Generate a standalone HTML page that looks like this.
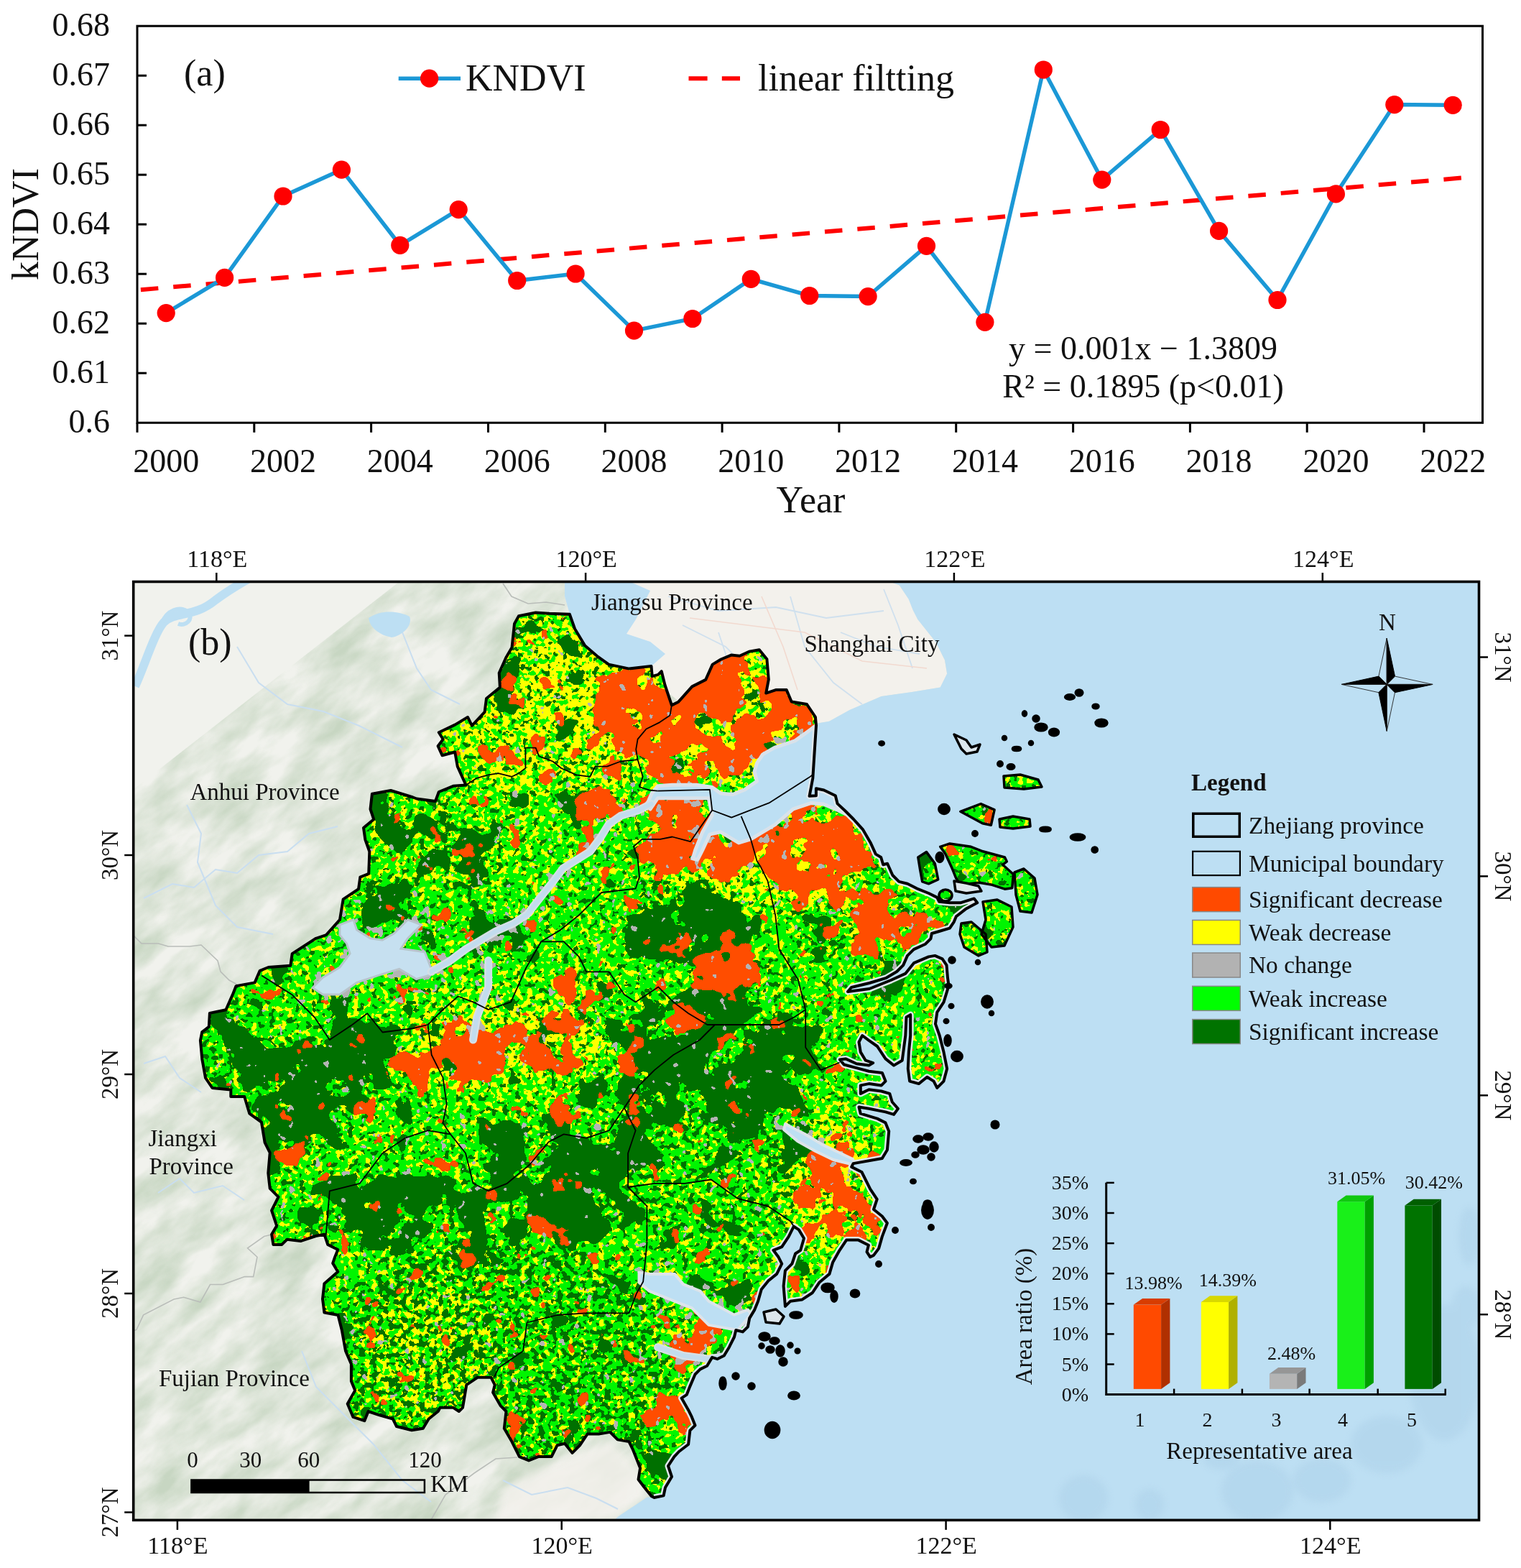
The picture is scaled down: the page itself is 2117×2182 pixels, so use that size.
<!DOCTYPE html>
<html><head><meta charset="utf-8"><title>kNDVI trend</title>
<style>
html,body{margin:0;padding:0;background:#fff;}
svg{display:block;}
svg text{font-family:'Liberation Serif','Times New Roman',serif;fill:#111;}
</style></head>
<body>
<svg xmlns="http://www.w3.org/2000/svg" width="2117" height="2182" viewBox="0 0 2117 2182">
<rect width="2117" height="2182" fill="#fff"/>
<rect x="191.0" y="36.2" width="1872.5" height="552.0999999999999" fill="none" stroke="#000" stroke-width="3"/>
<text x="153" y="50.4" text-anchor="end" font-size="46">0.68</text>
<line x1="191.0" y1="105.2" x2="204.0" y2="105.2" stroke="#000" stroke-width="3"/>
<text x="153" y="119.4" text-anchor="end" font-size="46">0.67</text>
<line x1="191.0" y1="174.2" x2="204.0" y2="174.2" stroke="#000" stroke-width="3"/>
<text x="153" y="188.4" text-anchor="end" font-size="46">0.66</text>
<line x1="191.0" y1="243.2" x2="204.0" y2="243.2" stroke="#000" stroke-width="3"/>
<text x="153" y="257.4" text-anchor="end" font-size="46">0.65</text>
<line x1="191.0" y1="312.2" x2="204.0" y2="312.2" stroke="#000" stroke-width="3"/>
<text x="153" y="326.4" text-anchor="end" font-size="46">0.64</text>
<line x1="191.0" y1="381.2" x2="204.0" y2="381.2" stroke="#000" stroke-width="3"/>
<text x="153" y="395.4" text-anchor="end" font-size="46">0.63</text>
<line x1="191.0" y1="450.2" x2="204.0" y2="450.2" stroke="#000" stroke-width="3"/>
<text x="153" y="464.4" text-anchor="end" font-size="46">0.62</text>
<line x1="191.0" y1="519.2" x2="204.0" y2="519.2" stroke="#000" stroke-width="3"/>
<text x="153" y="533.4" text-anchor="end" font-size="46">0.61</text>
<text x="153" y="602.4" text-anchor="end" font-size="46">0.6</text>
<line x1="191.0" y1="588.3" x2="191.0" y2="601.8" stroke="#000" stroke-width="3"/>
<text x="231.2" y="656.5" text-anchor="middle" font-size="46">2000</text>
<line x1="353.8" y1="588.3" x2="353.8" y2="601.8" stroke="#000" stroke-width="3"/>
<text x="394.0" y="656.5" text-anchor="middle" font-size="46">2002</text>
<line x1="516.6" y1="588.3" x2="516.6" y2="601.8" stroke="#000" stroke-width="3"/>
<text x="556.8" y="656.5" text-anchor="middle" font-size="46">2004</text>
<line x1="679.5" y1="588.3" x2="679.5" y2="601.8" stroke="#000" stroke-width="3"/>
<text x="719.7" y="656.5" text-anchor="middle" font-size="46">2006</text>
<line x1="842.3" y1="588.3" x2="842.3" y2="601.8" stroke="#000" stroke-width="3"/>
<text x="882.5" y="656.5" text-anchor="middle" font-size="46">2008</text>
<line x1="1005.1" y1="588.3" x2="1005.1" y2="601.8" stroke="#000" stroke-width="3"/>
<text x="1045.3" y="656.5" text-anchor="middle" font-size="46">2010</text>
<line x1="1167.9" y1="588.3" x2="1167.9" y2="601.8" stroke="#000" stroke-width="3"/>
<text x="1208.1" y="656.5" text-anchor="middle" font-size="46">2012</text>
<line x1="1330.7" y1="588.3" x2="1330.7" y2="601.8" stroke="#000" stroke-width="3"/>
<text x="1370.9" y="656.5" text-anchor="middle" font-size="46">2014</text>
<line x1="1493.6" y1="588.3" x2="1493.6" y2="601.8" stroke="#000" stroke-width="3"/>
<text x="1533.8" y="656.5" text-anchor="middle" font-size="46">2016</text>
<line x1="1656.4" y1="588.3" x2="1656.4" y2="601.8" stroke="#000" stroke-width="3"/>
<text x="1696.6" y="656.5" text-anchor="middle" font-size="46">2018</text>
<line x1="1819.2" y1="588.3" x2="1819.2" y2="601.8" stroke="#000" stroke-width="3"/>
<text x="1859.4" y="656.5" text-anchor="middle" font-size="46">2020</text>
<line x1="1982.0" y1="588.3" x2="1982.0" y2="601.8" stroke="#000" stroke-width="3"/>
<text x="2022.2" y="656.5" text-anchor="middle" font-size="46">2022</text>
<text x="1128.5" y="713" text-anchor="middle" font-size="52">Year</text>
<text transform="translate(53,312) rotate(-90)" text-anchor="middle" font-size="52">kNDVI</text>
<text x="256" y="118.5" font-size="52">(a)</text>
<line x1="195.9" y1="403.2" x2="2044.6" y2="246.7" stroke="#ff0000" stroke-width="6" stroke-dasharray="24.5 21"/>
<polyline fill="none" stroke="#1b98d6" stroke-width="5.5" stroke-linejoin="miter" points="231.2,435.6 312.6,386.4 394.0,273.0 475.4,236.2 556.8,341.3 638.2,291.6 719.7,390.5 801.1,381.0 882.5,460.1 963.9,443.5 1045.3,388.3 1126.7,411.5 1208.1,412.6 1289.5,342.3 1370.9,448.3 1452.3,97.0 1533.8,250.2 1615.2,180.5 1696.6,321.4 1778.0,417.5 1859.4,269.9 1940.8,145.6 2022.2,146.3"/>
<circle cx="231.2" cy="435.6" r="12.6" fill="#ff0000"/>
<circle cx="312.6" cy="386.4" r="12.6" fill="#ff0000"/>
<circle cx="394.0" cy="273.0" r="12.6" fill="#ff0000"/>
<circle cx="475.4" cy="236.2" r="12.6" fill="#ff0000"/>
<circle cx="556.8" cy="341.3" r="12.6" fill="#ff0000"/>
<circle cx="638.2" cy="291.6" r="12.6" fill="#ff0000"/>
<circle cx="719.7" cy="390.5" r="12.6" fill="#ff0000"/>
<circle cx="801.1" cy="381.0" r="12.6" fill="#ff0000"/>
<circle cx="882.5" cy="460.1" r="12.6" fill="#ff0000"/>
<circle cx="963.9" cy="443.5" r="12.6" fill="#ff0000"/>
<circle cx="1045.3" cy="388.3" r="12.6" fill="#ff0000"/>
<circle cx="1126.7" cy="411.5" r="12.6" fill="#ff0000"/>
<circle cx="1208.1" cy="412.6" r="12.6" fill="#ff0000"/>
<circle cx="1289.5" cy="342.3" r="12.6" fill="#ff0000"/>
<circle cx="1370.9" cy="448.3" r="12.6" fill="#ff0000"/>
<circle cx="1452.3" cy="97.0" r="12.6" fill="#ff0000"/>
<circle cx="1533.8" cy="250.2" r="12.6" fill="#ff0000"/>
<circle cx="1615.2" cy="180.5" r="12.6" fill="#ff0000"/>
<circle cx="1696.6" cy="321.4" r="12.6" fill="#ff0000"/>
<circle cx="1778.0" cy="417.5" r="12.6" fill="#ff0000"/>
<circle cx="1859.4" cy="269.9" r="12.6" fill="#ff0000"/>
<circle cx="1940.8" cy="145.6" r="12.6" fill="#ff0000"/>
<circle cx="2022.2" cy="146.3" r="12.6" fill="#ff0000"/>
<line x1="554.7" y1="109.2" x2="641" y2="109.2" stroke="#1b98d6" stroke-width="5.5"/>
<circle cx="597.6" cy="109.2" r="12.6" fill="#ff0000"/>
<text x="648" y="126" font-size="52">KNDVI</text>
<line x1="958.5" y1="109.2" x2="984.6" y2="109.2" stroke="#ff0000" stroke-width="6"/>
<line x1="1004.8" y1="109.2" x2="1030" y2="109.2" stroke="#ff0000" stroke-width="6"/>
<text x="1055" y="126" font-size="52">linear filtting</text>
<text x="1591" y="500.2" text-anchor="middle" font-size="46">y = 0.001x − 1.3809</text>
<text x="1591" y="553" text-anchor="middle" font-size="46">R² = 0.1895 (p&lt;0.01)</text>
<defs>
<clipPath id="cMap"><rect x="185.7" y="809.5" width="1872.8" height="1305.9"/></clipPath>
<clipPath id="cLand"><path d="M716.0,867.9 L722.0,857.2 L745.6,852.5 L764.5,853.7 L792.9,854.8 L800.0,875.0 L814.2,898.6 L830.8,912.8 L847.3,924.6 L875.7,930.6 L906.5,927.0 L907.7,941.2 L916.0,938.8 L920.7,934.1 L925.4,953.0 L934.9,981.4 L944.3,976.7 L963.3,955.4 L982.2,945.9 L991.7,924.6 L1003.5,917.5 L1017.7,911.6 L1029.5,912.8 L1042.6,906.7 L1056.8,904.3 L1067.4,917.3 L1069.8,945.7 L1066.2,964.6 L1080.4,959.9 L1094.6,959.9 L1101.7,976.5 L1123.0,980.0 L1134.9,997.8 L1136.0,1009.6 L1131.3,1083.0 L1126.6,1107.8 L1135.9,1107.3 L1135.9,1097.2 L1146.7,1099.5 L1162.8,1107.3 L1165.6,1118.4 L1176.0,1128.0 L1188.0,1140.0 L1201.2,1154.7 L1211.5,1172.4 L1218.9,1188.6 L1226.2,1193.0 L1229.2,1203.3 L1235.1,1201.8 L1242.4,1218.0 L1251.3,1226.9 L1263.0,1229.8 L1277.8,1237.2 L1292.5,1243.0 L1304.3,1248.9 L1307.2,1254.8 L1321.9,1256.3 L1336.7,1256.3 L1355.8,1250.4 L1360.2,1256.3 L1344.0,1265.1 L1330.8,1275.4 L1327.8,1282.8 L1321.9,1291.6 L1307.2,1296.0 L1296.9,1299.0 L1295.4,1306.3 L1288.1,1313.7 L1271.9,1321.1 L1263.0,1329.9 L1257.2,1343.1 L1248.3,1352.0 L1233.6,1360.8 L1210.0,1368.0 L1185.0,1374.0 L1180.0,1380.0 L1210.0,1376.0 L1240.0,1364.0 L1260.1,1354.9 L1271.9,1340.2 L1292.5,1331.4 L1301.3,1329.9 L1311.6,1334.3 L1317.5,1343.1 L1319.0,1360.8 L1320.5,1371.6 L1313.5,1394.7 L1304.3,1408.6 L1302.0,1424.8 L1307.7,1441.0 L1313.5,1464.1 L1318.1,1487.2 L1313.5,1504.6 L1304.3,1513.8 L1299.6,1504.6 L1290.4,1498.8 L1278.8,1508.1 L1266.1,1504.6 L1263.8,1487.2 L1264.9,1464.1 L1267.2,1441.0 L1267.2,1412.1 L1261.5,1415.5 L1260.3,1441.0 L1255.7,1475.7 L1244.1,1482.6 L1232.5,1473.4 L1221.0,1456.0 L1209.4,1447.9 L1200.2,1441.0 L1195.5,1450.2 L1197.8,1464.1 L1204.8,1475.7 L1215.2,1479.1 L1209.4,1482.6 L1192.1,1480.3 L1177.0,1473.4 L1168.9,1474.5 L1174.7,1481.5 L1192.1,1486.1 L1209.4,1490.7 L1227.9,1493.0 L1232.5,1504.6 L1226.8,1510.4 L1209.4,1508.1 L1197.8,1510.4 L1197.8,1521.9 L1209.4,1516.2 L1226.8,1518.5 L1238.3,1521.9 L1241.8,1533.5 L1249.9,1542.8 L1244.1,1550.9 L1232.5,1547.4 L1209.4,1542.8 L1195.5,1540.5 L1197.8,1549.7 L1221.0,1556.6 L1232.5,1562.4 L1237.2,1574.2 L1234.9,1600.2 L1227.8,1612.0 L1187.6,1619.1 L1185.2,1623.9 L1199.4,1631.0 L1211.2,1654.6 L1220.7,1668.8 L1216.0,1683.0 L1227.8,1692.5 L1234.9,1702.0 L1227.8,1720.9 L1223.1,1737.4 L1216.0,1746.9 L1211.2,1749.3 L1206.5,1742.2 L1208.9,1732.7 L1194.7,1725.6 L1178.1,1725.6 L1168.6,1739.8 L1159.2,1756.4 L1154.4,1772.9 L1140.2,1784.8 L1130.8,1799.0 L1116.6,1808.4 L1100.0,1810.8 L1092.9,1817.9 L1090.6,1789.5 L1092.9,1768.2 L1102.4,1758.7 L1107.1,1744.5 L1114.2,1739.8 L1119.0,1723.2 L1111.9,1711.4 L1104.8,1706.7 L1097.7,1720.9 L1088.2,1735.1 L1076.4,1739.8 L1083.5,1749.3 L1088.2,1758.7 L1081.1,1772.9 L1069.3,1782.4 L1059.8,1794.2 L1055.1,1810.8 L1050.3,1822.6 L1043.2,1834.4 L1040.9,1846.3 L1033.8,1853.4 L1024.3,1851.0 L1022.0,1860.5 L1014.9,1874.7 L1007.8,1886.5 L998.3,1891.2 L991.2,1888.9 L984.1,1900.7 L974.6,1905.4 L967.5,1912.5 L960.4,1929.1 L955.7,1940.9 L948.6,1945.6 L958.1,1962.2 L962.8,1971.7 L967.5,1983.5 L960.4,1990.6 L958.1,2010.0 L945.0,2020.0 L938.4,2027.1 L930.0,2040.0 L935.0,2055.0 L926.0,2070.0 L923.6,2081.4 L910.5,2084.0 L906.9,2082.3 L896.4,2069.2 L888.5,2058.7 L891.1,2042.9 L880.6,2016.6 L875.4,2006.1 L859.6,2003.4 L849.1,1992.9 L833.3,1995.6 L817.5,1995.6 L807.0,2011.3 L796.5,2021.8 L786.0,2008.7 L775.5,2011.3 L767.6,2027.1 L749.2,2027.1 L736.0,2032.4 L722.9,2027.1 L712.4,2006.1 L701.8,1987.7 L704.5,1964.0 L696.6,1956.1 L686.1,1937.7 L688.7,1927.2 L683.4,1916.7 L665.0,1916.7 L649.3,1927.2 L644.0,1958.8 L638.8,1964.0 L630.9,1958.8 L612.5,1958.8 L609.8,1964.0 L596.7,1974.5 L588.8,1987.7 L573.0,1990.3 L552.0,1985.0 L546.8,1974.5 L528.3,1969.3 L512.6,1964.0 L507.3,1977.2 L491.5,1971.9 L483.7,1953.5 L494.2,1935.1 L488.9,1922.0 L488.9,1898.3 L481.0,1879.9 L475.8,1851.0 L470.5,1830.0 L451.4,1826.5 L449.0,1807.6 L451.4,1786.3 L470.3,1769.7 L463.2,1757.9 L465.6,1750.8 L470.3,1739.0 L456.2,1731.9 L451.4,1717.7 L439.6,1720.0 L418.3,1727.1 L399.4,1724.8 L392.3,1731.9 L380.4,1731.9 L378.1,1717.7 L385.2,1705.8 L378.1,1684.5 L387.5,1665.6 L375.7,1653.8 L373.3,1632.5 L375.7,1604.1 L368.6,1589.9 L363.9,1561.5 L347.3,1549.7 L340.2,1526.0 L321.3,1526.0 L321.3,1516.6 L295.5,1514.0 L286.0,1499.8 L281.3,1473.8 L278.9,1447.8 L281.3,1436.0 L290.8,1428.9 L291.9,1409.9 L314.4,1405.2 L323.9,1383.9 L328.6,1372.1 L354.6,1367.4 L361.7,1350.8 L373.6,1346.0 L404.3,1343.7 L406.7,1327.1 L439.8,1305.8 L454.0,1301.1 L473.0,1279.8 L477.7,1251.4 L499.0,1237.2 L501.3,1220.7 L513.2,1215.9 L514.3,1185.2 L508.4,1168.6 L506.0,1152.0 L520.2,1140.2 L515.5,1126.0 L517.9,1104.7 L543.9,1100.0 L574.7,1109.5 L580.0,1111.5 L606.0,1115.0 L610.8,1102.0 L630.9,1093.8 L648.6,1092.6 L636.8,1066.6 L633.2,1046.5 L615.5,1051.2 L609.6,1038.2 L616.7,1028.7 L610.8,1019.3 L633.2,1008.6 L651.0,998.0 L656.9,1009.8 L674.6,990.9 L677.0,972.0 L695.9,956.6 L694.7,936.5 L704.2,915.2 L712.5,901.0 Z"/><polygon points="1308.7,1178.3 1321.9,1173.9 1351.4,1178.3 1366.1,1184.2 1398.5,1193.0 1401.4,1198.9 1395.5,1203.3 1410.3,1216.5 1408.8,1235.7 1398.5,1237.2 1380.8,1231.3 1363.1,1228.3 1336.7,1231.3 1330.8,1222.4 1324.9,1207.7 1316.0,1188.6"/><polygon points="1277.8,1193.0 1289.5,1185.6 1301.3,1201.8 1305.7,1223.9 1292.5,1229.8 1283.7,1226.9 1280.7,1210.7"/><ellipse cx="1316" cy="1246" rx="9" ry="8"/><polygon points="1336.8,1129.3 1365.2,1118.6 1384.1,1126.9 1379.4,1148.2 1367.5,1145.8"/><polygon points="1391.0,1140.0 1410.0,1136.0 1433.0,1140.0 1434.0,1150.0 1410.0,1153.0 1392.0,1151.0"/><polygon points="1397.0,1080.0 1420.0,1078.0 1445.0,1085.0 1450.0,1095.0 1425.0,1098.0 1398.0,1096.0"/><polygon points="1412.0,1214.0 1425.0,1209.0 1440.0,1222.0 1444.0,1245.0 1436.0,1270.0 1420.0,1268.0 1414.0,1245.0"/><polygon points="1368.0,1255.0 1388.0,1252.0 1408.0,1262.0 1410.0,1290.0 1398.0,1316.0 1380.0,1318.0 1366.0,1300.0 1372.0,1280.0"/><polygon points="1338.0,1285.0 1352.0,1283.0 1372.0,1300.0 1374.0,1325.0 1362.0,1330.0 1342.0,1318.0 1336.0,1300.0"/></clipPath>
<filter id="f_dg" filterUnits="userSpaceOnUse" x="185.7" y="809.5" width="1872.8" height="1305.9" color-interpolation-filters="sRGB">
  <feGaussianBlur in="SourceGraphic" stdDeviation="14" result="d"/>
  <feTurbulence type="fractalNoise" baseFrequency="0.022" numOctaves="3" seed="7" result="n"/>
  <feColorMatrix in="n" type="matrix" values="0 0 0 0 0 0 0 0 0 0 0 0 0 0 0 1 0 0 0 0" result="na"/>
  <feComposite in="d" in2="na" operator="arithmetic" k1="0" k2="1" k3="2.0" k4="-1.0" result="s"/>
  <feComponentTransfer in="s" result="t"><feFuncA type="discrete" tableValues="0 1"/></feComponentTransfer>
  <feFlood flood-color="#007000"/>
  <feComposite in2="t" operator="in"/>
</filter>
<filter id="f_dgs" filterUnits="userSpaceOnUse" x="185.7" y="809.5" width="1872.8" height="1305.9" color-interpolation-filters="sRGB">
  <feGaussianBlur in="SourceGraphic" stdDeviation="10" result="d"/>
  <feTurbulence type="fractalNoise" baseFrequency="0.12" numOctaves="2" seed="11" result="n"/>
  <feColorMatrix in="n" type="matrix" values="0 0 0 0 0 0 0 0 0 0 0 0 0 0 0 1 0 0 0 0" result="na"/>
  <feComposite in="d" in2="na" operator="arithmetic" k1="0" k2="1" k3="2.0" k4="-1.0" result="s"/>
  <feComponentTransfer in="s" result="t"><feFuncA type="discrete" tableValues="0 1"/></feComponentTransfer>
  <feFlood flood-color="#007000"/>
  <feComposite in2="t" operator="in"/>
</filter>
<filter id="f_ye" filterUnits="userSpaceOnUse" x="185.7" y="809.5" width="1872.8" height="1305.9" color-interpolation-filters="sRGB">
  <feGaussianBlur in="SourceGraphic" stdDeviation="14" result="d"/>
  <feTurbulence type="fractalNoise" baseFrequency="0.12" numOctaves="2" seed="4" result="n"/>
  <feColorMatrix in="n" type="matrix" values="0 0 0 0 0 0 0 0 0 0 0 0 0 0 0 1 0 0 0 0" result="na"/>
  <feComposite in="d" in2="na" operator="arithmetic" k1="0" k2="1" k3="2.0" k4="-1.0" result="s"/>
  <feComponentTransfer in="s" result="t"><feFuncA type="discrete" tableValues="0 1"/></feComponentTransfer>
  <feFlood flood-color="#ffff00"/>
  <feComposite in2="t" operator="in"/>
</filter>
<filter id="f_orr" filterUnits="userSpaceOnUse" x="185.7" y="809.5" width="1872.8" height="1305.9" color-interpolation-filters="sRGB">
  <feGaussianBlur in="SourceGraphic" stdDeviation="12" result="d"/>
  <feTurbulence type="fractalNoise" baseFrequency="0.03" numOctaves="3" seed="21" result="n"/>
  <feColorMatrix in="n" type="matrix" values="0 0 0 0 0 0 0 0 0 0 0 0 0 0 0 1 0 0 0 0" result="na"/>
  <feComposite in="d" in2="na" operator="arithmetic" k1="0" k2="1" k3="2.0" k4="-1.0" result="s"/>
  <feComponentTransfer in="s" result="t"><feFuncA type="discrete" tableValues="0 1"/></feComponentTransfer>
  <feFlood flood-color="#ff4d00"/>
  <feComposite in2="t" operator="in"/>
</filter>
<filter id="f_gr" filterUnits="userSpaceOnUse" x="185.7" y="809.5" width="1872.8" height="1305.9" color-interpolation-filters="sRGB">
  <feGaussianBlur in="SourceGraphic" stdDeviation="10" result="d"/>
  <feTurbulence type="fractalNoise" baseFrequency="0.08" numOctaves="2" seed="33" result="n"/>
  <feColorMatrix in="n" type="matrix" values="0 0 0 0 0 0 0 0 0 0 0 0 0 0 0 1 0 0 0 0" result="na"/>
  <feComposite in="d" in2="na" operator="arithmetic" k1="0" k2="1" k3="2.0" k4="-1.0" result="s"/>
  <feComponentTransfer in="s" result="t"><feFuncA type="discrete" tableValues="0 1"/></feComponentTransfer>
  <feFlood flood-color="#b4b4b4"/>
  <feComposite in2="t" operator="in"/>
</filter>
<filter id="fHill" filterUnits="userSpaceOnUse" x="-200" y="600" width="2600" height="1800" color-interpolation-filters="sRGB">
  <feTurbulence type="fractalNoise" baseFrequency="0.012 0.03" numOctaves="4" seed="5" result="n"/>
  <feColorMatrix in="n" type="matrix" values="0 0 0 0 0.78 0 0 0 0 0.84 0 0 0 0 0.76 1.8 0 0 0 -0.5"/>
  <feComposite in2="SourceGraphic" operator="in"/>
</filter>
<filter id="fSoft" x="-20%" y="-20%" width="140%" height="140%"><feGaussianBlur stdDeviation="5"/></filter>
</defs>
<g clip-path="url(#cMap)">
<rect x="185.7" y="809.5" width="1872.8" height="1305.9" fill="#f1f2ed"/>
<g transform="rotate(-38 1120 1460)"><rect x="-200" y="600" width="2600" height="1800" fill="#fff" filter="url(#fHill)"/></g>
<polygon points="786.0,809.5 1239.0,809.5 1251.9,814.5 1264.5,833.4 1270.8,849.2 1277.1,861.8 1289.7,877.6 1302.4,893.3 1315.0,918.6 1318.1,937.5 1308.7,956.4 1270.8,962.7 1226.7,969.0 1182.5,988.0 1154.1,1003.7 1135.2,1006.9 1100.0,1100.0 900.0,940.0 800.0,880.0 786.0,830.0" fill="#f3f1ec"/>
<polygon points="690,2115.4 700,2070 760,2040 850,2005 890,2045 896,2082 853,2115.4" fill="#f3f1ec" opacity="0.8" filter="url(#fSoft)"/>
<polygon points="1239.0,809.5 1251.9,814.5 1264.5,833.4 1270.8,849.2 1277.1,861.8 1289.7,877.6 1302.4,893.3 1315.0,918.6 1318.1,937.5 1308.7,956.4 1270.8,962.7 1226.7,969.0 1182.5,988.0 1154.1,1003.7 1135.2,1006.9 1136.0,1009.6 1100.0,1300.0 950.0,1700.0 923.0,2081.0 900.0,2084.0 876.3,2099.8 860.5,2110.3 855.0,2115.4 2058.5,2115.4 2058.5,809.5" fill="#bddff3"/>
<g filter="url(#fSoft)" opacity="0.4"><ellipse cx="1508" cy="2085" rx="34" ry="32" fill="#a9cde6"/><ellipse cx="1600" cy="2094" rx="20" ry="22" fill="#a9cde6"/><ellipse cx="1750" cy="2075" rx="50" ry="42" fill="#a9cde6"/><ellipse cx="1840" cy="2060" rx="40" ry="30" fill="#a9cde6"/><ellipse cx="1930" cy="2010" rx="50" ry="40" fill="#a9cde6"/><ellipse cx="2010" cy="1910" rx="50" ry="95" fill="#a9cde6"/><ellipse cx="2040" cy="1820" rx="20" ry="30" fill="#a9cde6"/><ellipse cx="2045" cy="1720" rx="15" ry="40" fill="#a9cde6"/><ellipse cx="1700" cy="2030" rx="25" ry="15" fill="#a9cde6"/></g>
<polyline points="185.0,1301.0 197.0,1313.0 220.5,1313.0 234.0,1317.0 264.0,1317.0 280.0,1315.0 303.0,1337.0 307.0,1352.0 319.0,1364.0 330.0,1370.0" fill="none" stroke="#b9bdb9" stroke-width="1.6"/>
<polyline points="185.0,1852.0 190.0,1850.4 199.6,1829.9 242.0,1808.0 255.6,1805.3 278.8,1812.1 292.5,1787.5 310.3,1787.5 340.4,1776.6 352.7,1776.6 358.0,1749.2 344.5,1736.9 367.7,1720.5 378.0,1718.0" fill="none" stroke="#b9bdb9" stroke-width="1.6"/>
<polyline points="700.0,812.0 712.0,830.0 735.0,840.0 760.0,838.0 786.0,842.0" fill="none" stroke="#b9bdb9" stroke-width="1.6"/>
<polyline points="600.0,2115.0 620.0,2080.0 660.0,2050.0 690.0,2030.0 720.0,2028.0" fill="none" stroke="#b9bdb9" stroke-width="1.6"/>
<polyline points="200.0,1250.0 240.0,1230.0 270.0,1235.0 300.0,1210.0 330.0,1215.0 360.0,1190.0 400.0,1185.0 430.0,1160.0 470.0,1150.0" fill="none" stroke="#c9def0" stroke-width="2"/>
<polyline points="260.0,1120.0 280.0,1160.0 275.0,1200.0 300.0,1260.0 330.0,1290.0 380.0,1300.0" fill="none" stroke="#c9def0" stroke-width="2"/>
<polyline points="200.0,1480.0 230.0,1470.0 250.0,1500.0 280.0,1520.0" fill="none" stroke="#c9def0" stroke-width="2"/>
<polyline points="220.0,1660.0 250.0,1640.0 270.0,1660.0 310.0,1650.0 340.0,1670.0" fill="none" stroke="#c9def0" stroke-width="2"/>
<polyline points="420.0,1880.0 440.0,1930.0 470.0,1960.0 520.0,2010.0 560.0,2060.0 600.0,2090.0" fill="none" stroke="#c9def0" stroke-width="2"/>
<polyline points="700.0,2060.0 740.0,2080.0 790.0,2070.0 830.0,2085.0 860.0,2100.0" fill="none" stroke="#c9def0" stroke-width="2"/>
<polyline points="330.0,900.0 360.0,950.0 400.0,980.0 450.0,990.0 500.0,1010.0 560.0,1040.0" fill="none" stroke="#c9def0" stroke-width="2"/>
<polyline points="560.0,880.0 580.0,930.0 600.0,960.0 640.0,980.0" fill="none" stroke="#c9def0" stroke-width="2"/>
<polyline points="930.0,830.0 1000.0,850.0 1080.0,845.0 1150.0,860.0 1230.0,850.0" fill="none" stroke="#cfe0ee" stroke-width="1.8"/>
<polyline points="1000.0,880.0 1020.0,940.0 1060.0,990.0" fill="none" stroke="#cfe0ee" stroke-width="1.8"/>
<polyline points="1100.0,830.0 1120.0,900.0 1160.0,950.0 1200.0,980.0" fill="none" stroke="#cfe0ee" stroke-width="1.8"/>
<polyline points="1170.0,880.0 1220.0,900.0 1280.0,910.0" fill="none" stroke="#cfe0ee" stroke-width="1.8"/>
<polyline points="950.0,870.0 1010.0,900.0 1040.0,930.0" fill="none" stroke="#cfe0ee" stroke-width="1.8"/>
<polyline points="1230.0,820.0 1250.0,870.0 1270.0,930.0" fill="none" stroke="#cfe0ee" stroke-width="1.8"/>
<polyline points="960.0,860.0 1040.0,870.0 1120.0,880.0 1200.0,920.0 1290.0,930.0" fill="none" stroke="#f2d9cf" stroke-width="1.6"/>
<polyline points="1060.0,830.0 1090.0,900.0 1110.0,960.0" fill="none" stroke="#f2d9cf" stroke-width="1.6"/>
<polygon points="786.0,811.0 880.0,811.0 905.0,822.0 885.0,862.0 872.0,882.0 905.0,893.0 926.0,910.0 906.5,927.0 875.7,930.6 847.3,924.6 830.8,912.8 814.2,898.6 800.0,875.0 792.9,854.8 786.0,830.0" fill="#bddff3"/>
<path d="M188,955 C200,930 215,880 228,866 C245,850 270,860 300,835 C320,820 335,812 345,806" fill="none" stroke="#bddff3" stroke-width="12"/>
<path d="M226,866 C232,850 250,842 262,852 C270,862 258,872 248,868" fill="none" stroke="#bddff3" stroke-width="6"/>
<path d="M513,860 C530,848 555,850 570,858 C575,870 560,885 545,887 C530,884 515,875 513,860 Z" fill="#bddff3"/>
<g clip-path="url(#cLand)">
<rect x="185.7" y="809.5" width="1872.8" height="1305.9" fill="#00f500"/>
<g filter="url(#f_ye)"><rect x="185.7" y="809.5" width="1872.8" height="1305.9" fill="#000" fill-opacity="0.33"/><ellipse cx="780" cy="985" rx="170" ry="120" fill="#000" fill-opacity="0.3"/>
<ellipse cx="1030" cy="1000" rx="110" ry="90" fill="#000" fill-opacity="0.4"/>
<ellipse cx="1050" cy="1200" rx="150" ry="70" fill="#000" fill-opacity="0.35"/>
<ellipse cx="700" cy="1450" rx="150" ry="70" fill="#000" fill-opacity="0.3"/>
<ellipse cx="600" cy="1880" rx="90" ry="100" fill="#000" fill-opacity="0.25"/>
<ellipse cx="850" cy="960" rx="120" ry="80" fill="#000" fill-opacity="0.3"/>
<ellipse cx="1150" cy="1650" rx="70" ry="110" fill="#000" fill-opacity="0.3"/>
<ellipse cx="640" cy="1150" rx="120" ry="90" fill="#000" fill-opacity="0.15"/><polygon points="828.0,933.0 905.0,930.0 933.0,960.0 933.0,1067.0 860.0,1067.0 828.0,1040.0" fill="#000" fill-opacity="0.255"/>
<ellipse cx="730" cy="980" rx="110" ry="110" fill="#000" fill-opacity="0.036"/>
<polygon points="940.0,915.0 1030.0,912.0 1070.0,950.0 1100.0,975.0 1135.0,1000.0 1130.0,1040.0 1060.0,1045.0 1050.0,1090.0 990.0,1095.0 930.0,1090.0 935.0,990.0" fill="#000" fill-opacity="0.186"/>
<ellipse cx="836" cy="1118" rx="42" ry="26" fill="#000" fill-opacity="0.255"/>
<ellipse cx="942" cy="1138" rx="42" ry="38" fill="#000" fill-opacity="0.255"/>
<ellipse cx="984" cy="1187" rx="105" ry="32" fill="#000" fill-opacity="0.21"/>
<ellipse cx="1131" cy="1190" rx="84" ry="60" fill="#000" fill-opacity="0.216"/>
<ellipse cx="1205" cy="1282" rx="52" ry="42" fill="#000" fill-opacity="0.21"/>
<ellipse cx="1250" cy="1295" rx="38" ry="25" fill="#000" fill-opacity="0.18"/>
<ellipse cx="1005" cy="1346" rx="42" ry="32" fill="#000" fill-opacity="0.18"/>
<ellipse cx="800" cy="1374" rx="28" ry="13" fill="#000" fill-opacity="0.22499999999999998"/>
<ellipse cx="649" cy="1468" rx="50" ry="42" fill="#000" fill-opacity="0.255"/>
<ellipse cx="730" cy="1450" rx="95" ry="38" fill="#000" fill-opacity="0.165"/>
<ellipse cx="1000" cy="1350" rx="45" ry="30" fill="#000" fill-opacity="0.18"/>
<ellipse cx="960" cy="1420" rx="35" ry="22" fill="#000" fill-opacity="0.165"/>
<ellipse cx="586" cy="1474" rx="32" ry="28" fill="#000" fill-opacity="0.21"/>
<ellipse cx="790" cy="1378" rx="26" ry="16" fill="#000" fill-opacity="0.24"/>
<ellipse cx="807" cy="1427" rx="22" ry="14" fill="#000" fill-opacity="0.21"/>
<ellipse cx="860" cy="1473" rx="16" ry="14" fill="#000" fill-opacity="0.22499999999999998"/>
<ellipse cx="786" cy="1546" rx="22" ry="16" fill="#000" fill-opacity="0.21"/>
<ellipse cx="1006" cy="1352" rx="52" ry="30" fill="#000" fill-opacity="0.165"/>
<ellipse cx="411" cy="1603" rx="26" ry="17" fill="#000" fill-opacity="0.21"/>
<ellipse cx="500" cy="1535" rx="21" ry="17" fill="#000" fill-opacity="0.18"/>
<ellipse cx="744" cy="1701" rx="21" ry="15" fill="#000" fill-opacity="0.22499999999999998"/>
<ellipse cx="512" cy="1935" rx="17" ry="13" fill="#000" fill-opacity="0.18"/>
<ellipse cx="563" cy="1796" rx="17" ry="9" fill="#000" fill-opacity="0.18"/>
<ellipse cx="670" cy="1788" rx="11" ry="8" fill="#000" fill-opacity="0.18"/>
<ellipse cx="1160" cy="1650" rx="45" ry="65" fill="#000" fill-opacity="0.24"/>
<ellipse cx="1195" cy="1720" rx="20" ry="25" fill="#000" fill-opacity="0.18"/>
<ellipse cx="920" cy="1966" rx="30" ry="24" fill="#000" fill-opacity="0.255"/>
<ellipse cx="950" cy="1868" rx="25" ry="42" fill="#000" fill-opacity="0.18"/>
<ellipse cx="977" cy="1857" rx="27" ry="23" fill="#000" fill-opacity="0.21"/>
<ellipse cx="1070" cy="1830" rx="30" ry="45" fill="#000" fill-opacity="0.24"/>
<ellipse cx="600" cy="1180" rx="30" ry="20" fill="#000" fill-opacity="0.105"/></g>
<g filter="url(#f_dgs)"><rect x="185.7" y="809.5" width="1872.8" height="1305.9" fill="#000" fill-opacity="0.21"/><ellipse cx="620" cy="1220" rx="140" ry="110" fill="#000" fill-opacity="0.03"/>
<ellipse cx="430" cy="1520" rx="150" ry="130" fill="#000" fill-opacity="0.05"/>
<ellipse cx="800" cy="1500" rx="160" ry="120" fill="#000" fill-opacity="0.05"/>
<ellipse cx="1050" cy="1450" rx="90" ry="120" fill="#000" fill-opacity="0.075"/>
<ellipse cx="650" cy="1700" rx="200" ry="70" fill="#000" fill-opacity="0.075"/>
<ellipse cx="760" cy="990" rx="120" ry="110" fill="#000" fill-opacity="0.0375"/>
<ellipse cx="560" cy="1150" rx="45" ry="35" fill="#000" fill-opacity="0.15"/>
<ellipse cx="650" cy="1200" rx="45" ry="35" fill="#000" fill-opacity="0.1375"/>
<ellipse cx="540" cy="1260" rx="40" ry="30" fill="#000" fill-opacity="0.15"/>
<ellipse cx="700" cy="1310" rx="40" ry="30" fill="#000" fill-opacity="0.1375"/>
<ellipse cx="610" cy="1100" rx="30" ry="22" fill="#000" fill-opacity="0.1375"/>
<ellipse cx="963" cy="1292" rx="85" ry="55" fill="#000" fill-opacity="0.18"/>
<ellipse cx="900" cy="1250" rx="30" ry="30" fill="#000" fill-opacity="0.15"/>
<ellipse cx="933" cy="1468" rx="65" ry="85" fill="#000" fill-opacity="0.18"/>
<ellipse cx="1000" cy="1400" rx="50" ry="50" fill="#000" fill-opacity="0.2"/>
<ellipse cx="1150" cy="1300" rx="40" ry="30" fill="#000" fill-opacity="0.15"/>
<ellipse cx="1230" cy="1360" rx="30" ry="30" fill="#000" fill-opacity="0.125"/>
<ellipse cx="428" cy="1520" rx="85" ry="70" fill="#000" fill-opacity="0.15"/>
<ellipse cx="320" cy="1447" rx="45" ry="45" fill="#000" fill-opacity="0.15"/>
<ellipse cx="520" cy="1460" rx="40" ry="40" fill="#000" fill-opacity="0.15"/>
<ellipse cx="350" cy="1620" rx="40" ry="40" fill="#000" fill-opacity="0.15"/>
<ellipse cx="546" cy="1678" rx="95" ry="45" fill="#000" fill-opacity="0.1375"/>
<ellipse cx="807" cy="1657" rx="70" ry="70" fill="#000" fill-opacity="0.18"/>
<ellipse cx="870" cy="1600" rx="40" ry="40" fill="#000" fill-opacity="0.2"/>
<ellipse cx="700" cy="1600" rx="50" ry="35" fill="#000" fill-opacity="0.15"/>
<ellipse cx="1030" cy="1520" rx="50" ry="60" fill="#000" fill-opacity="0.175"/>
<ellipse cx="1100" cy="1450" rx="40" ry="30" fill="#000" fill-opacity="0.15"/>
<ellipse cx="1100" cy="1600" rx="40" ry="40" fill="#000" fill-opacity="0.1125"/>
<ellipse cx="915" cy="2040" rx="25" ry="35" fill="#000" fill-opacity="0.175"/><ellipse cx="700" cy="1900" rx="260" ry="170" fill="#000" fill-opacity="0.25"/>
<ellipse cx="1000" cy="1650" rx="120" ry="120" fill="#000" fill-opacity="0.15"/></g>
<g filter="url(#f_dg)"><rect x="185.7" y="809.5" width="1872.8" height="1305.9" fill="#000" fill-opacity="0.12"/><ellipse cx="620" cy="1220" rx="140" ry="110" fill="#000" fill-opacity="0.12"/>
<ellipse cx="430" cy="1520" rx="150" ry="130" fill="#000" fill-opacity="0.2"/>
<ellipse cx="800" cy="1500" rx="160" ry="120" fill="#000" fill-opacity="0.2"/>
<ellipse cx="1050" cy="1450" rx="90" ry="120" fill="#000" fill-opacity="0.3"/>
<ellipse cx="650" cy="1700" rx="200" ry="70" fill="#000" fill-opacity="0.3"/>
<ellipse cx="760" cy="990" rx="120" ry="110" fill="#000" fill-opacity="0.15"/>
<ellipse cx="560" cy="1150" rx="45" ry="35" fill="#000" fill-opacity="0.6"/>
<ellipse cx="650" cy="1200" rx="45" ry="35" fill="#000" fill-opacity="0.55"/>
<ellipse cx="540" cy="1260" rx="40" ry="30" fill="#000" fill-opacity="0.6"/>
<ellipse cx="700" cy="1310" rx="40" ry="30" fill="#000" fill-opacity="0.55"/>
<ellipse cx="610" cy="1100" rx="30" ry="22" fill="#000" fill-opacity="0.55"/>
<ellipse cx="963" cy="1292" rx="85" ry="55" fill="#000" fill-opacity="0.72"/>
<ellipse cx="900" cy="1250" rx="30" ry="30" fill="#000" fill-opacity="0.6"/>
<ellipse cx="933" cy="1468" rx="65" ry="85" fill="#000" fill-opacity="0.72"/>
<ellipse cx="1000" cy="1400" rx="50" ry="50" fill="#000" fill-opacity="0.72"/>
<ellipse cx="1150" cy="1300" rx="40" ry="30" fill="#000" fill-opacity="0.6"/>
<ellipse cx="1230" cy="1360" rx="30" ry="30" fill="#000" fill-opacity="0.5"/>
<ellipse cx="428" cy="1520" rx="85" ry="70" fill="#000" fill-opacity="0.6"/>
<ellipse cx="320" cy="1447" rx="45" ry="45" fill="#000" fill-opacity="0.6"/>
<ellipse cx="520" cy="1460" rx="40" ry="40" fill="#000" fill-opacity="0.6"/>
<ellipse cx="350" cy="1620" rx="40" ry="40" fill="#000" fill-opacity="0.6"/>
<ellipse cx="546" cy="1678" rx="95" ry="45" fill="#000" fill-opacity="0.55"/>
<ellipse cx="807" cy="1657" rx="70" ry="70" fill="#000" fill-opacity="0.72"/>
<ellipse cx="870" cy="1600" rx="40" ry="40" fill="#000" fill-opacity="0.72"/>
<ellipse cx="700" cy="1600" rx="50" ry="35" fill="#000" fill-opacity="0.6"/>
<ellipse cx="1030" cy="1520" rx="50" ry="60" fill="#000" fill-opacity="0.7"/>
<ellipse cx="1100" cy="1450" rx="40" ry="30" fill="#000" fill-opacity="0.6"/>
<ellipse cx="1100" cy="1600" rx="40" ry="40" fill="#000" fill-opacity="0.45"/>
<ellipse cx="915" cy="2040" rx="25" ry="35" fill="#000" fill-opacity="0.7"/></g>
<g filter="url(#f_orr)"><rect x="185.7" y="809.5" width="1872.8" height="1305.9" fill="#000" fill-opacity="0.08"/><polygon points="828.0,933.0 905.0,930.0 933.0,960.0 933.0,1067.0 860.0,1067.0 828.0,1040.0" fill="#000" fill-opacity="0.85"/>
<ellipse cx="730" cy="980" rx="110" ry="110" fill="#000" fill-opacity="0.12"/>
<polygon points="940.0,915.0 1030.0,912.0 1070.0,950.0 1100.0,975.0 1135.0,1000.0 1130.0,1040.0 1060.0,1045.0 1050.0,1090.0 990.0,1095.0 930.0,1090.0 935.0,990.0" fill="#000" fill-opacity="0.62"/>
<ellipse cx="836" cy="1118" rx="42" ry="26" fill="#000" fill-opacity="0.85"/>
<ellipse cx="942" cy="1138" rx="42" ry="38" fill="#000" fill-opacity="0.85"/>
<ellipse cx="984" cy="1187" rx="105" ry="32" fill="#000" fill-opacity="0.7"/>
<ellipse cx="1131" cy="1190" rx="84" ry="60" fill="#000" fill-opacity="0.72"/>
<ellipse cx="1205" cy="1282" rx="52" ry="42" fill="#000" fill-opacity="0.7"/>
<ellipse cx="1250" cy="1295" rx="38" ry="25" fill="#000" fill-opacity="0.6"/>
<ellipse cx="1005" cy="1346" rx="42" ry="32" fill="#000" fill-opacity="0.6"/>
<ellipse cx="800" cy="1374" rx="28" ry="13" fill="#000" fill-opacity="0.75"/>
<ellipse cx="649" cy="1468" rx="50" ry="42" fill="#000" fill-opacity="0.85"/>
<ellipse cx="730" cy="1450" rx="95" ry="38" fill="#000" fill-opacity="0.55"/>
<ellipse cx="1000" cy="1350" rx="45" ry="30" fill="#000" fill-opacity="0.6"/>
<ellipse cx="960" cy="1420" rx="35" ry="22" fill="#000" fill-opacity="0.55"/>
<ellipse cx="586" cy="1474" rx="32" ry="28" fill="#000" fill-opacity="0.7"/>
<ellipse cx="790" cy="1378" rx="26" ry="16" fill="#000" fill-opacity="0.8"/>
<ellipse cx="807" cy="1427" rx="22" ry="14" fill="#000" fill-opacity="0.7"/>
<ellipse cx="860" cy="1473" rx="16" ry="14" fill="#000" fill-opacity="0.75"/>
<ellipse cx="786" cy="1546" rx="22" ry="16" fill="#000" fill-opacity="0.7"/>
<ellipse cx="1006" cy="1352" rx="52" ry="30" fill="#000" fill-opacity="0.55"/>
<ellipse cx="411" cy="1603" rx="26" ry="17" fill="#000" fill-opacity="0.7"/>
<ellipse cx="500" cy="1535" rx="21" ry="17" fill="#000" fill-opacity="0.6"/>
<ellipse cx="744" cy="1701" rx="21" ry="15" fill="#000" fill-opacity="0.75"/>
<ellipse cx="512" cy="1935" rx="17" ry="13" fill="#000" fill-opacity="0.6"/>
<ellipse cx="563" cy="1796" rx="17" ry="9" fill="#000" fill-opacity="0.6"/>
<ellipse cx="670" cy="1788" rx="11" ry="8" fill="#000" fill-opacity="0.6"/>
<ellipse cx="1160" cy="1650" rx="45" ry="65" fill="#000" fill-opacity="0.8"/>
<ellipse cx="1195" cy="1720" rx="20" ry="25" fill="#000" fill-opacity="0.6"/>
<ellipse cx="920" cy="1966" rx="30" ry="24" fill="#000" fill-opacity="0.85"/>
<ellipse cx="950" cy="1868" rx="25" ry="42" fill="#000" fill-opacity="0.6"/>
<ellipse cx="977" cy="1857" rx="27" ry="23" fill="#000" fill-opacity="0.7"/>
<ellipse cx="1070" cy="1830" rx="30" ry="45" fill="#000" fill-opacity="0.8"/>
<ellipse cx="600" cy="1180" rx="30" ry="20" fill="#000" fill-opacity="0.35"/></g>
<g filter="url(#f_gr)"><rect x="185.7" y="809.5" width="1872.8" height="1305.9" fill="#000" fill-opacity="0.02"/><polyline points="600.0,1352.0 625.0,1338.0 648.0,1321.0 690.0,1296.0 715.0,1285.0 733.8,1272.4 750.3,1251.1 769.3,1227.5 783.5,1208.5 802.4,1196.7 821.3,1184.9 835.5,1166.0 847.3,1147.0 863.9,1135.2 887.6,1128.0 906.5,1118.6" fill="none" stroke="#000" stroke-opacity="0.3" stroke-width="30"/><polyline points="679.6,1336.6 679.6,1373.4 663.8,1415.5 658.5,1447.0" fill="none" stroke="#000" stroke-opacity="0.3" stroke-width="30"/><polyline points="915.5,1874.7 951.0,1886.5 986.5,1891.2 1005.0,1888.0" fill="none" stroke="#000" stroke-opacity="0.3" stroke-width="30"/><polygon points="472.9,1286.9 491.9,1279.8 496.6,1294.0 515.5,1305.8 532.1,1308.2 548.6,1298.7 567.6,1279.8 586.5,1286.9 567.6,1305.8 558.1,1320.0 591.2,1324.8 603.1,1355.5 579.4,1362.6 555.7,1348.4 525.0,1357.9 496.6,1367.4 472.9,1383.9 449.3,1383.9 435.1,1374.4 449.3,1360.2 472.9,1346.0 487.1,1327.1 482.4,1312.9 472.9,1301.1" fill="none" stroke="#000" stroke-opacity="0.3" stroke-width="30"/><polygon points="1136.0,1009.6 1106.5,1030.9 1078.0,1040.3 1061.5,1049.8 1053.5,1062.0 1050.1,1073.6 1053.5,1087.1 1036.6,1098.9 1019.8,1105.6 1003.0,1103.9 991.2,1095.5 969.4,1092.2 935.7,1092.2 915.5,1093.8 907.1,1103.9 902.1,1115.7 899.4,1119.0 905.0,1126.0 915.5,1110.7 961.0,1110.7 986.2,1110.7 991.2,1134.2 977.8,1157.8 967.7,1183.0 964.3,1194.8 971.0,1196.5 977.8,1183.0 987.9,1161.1 1003.0,1157.8 1028.2,1172.9 1045.0,1167.9 1078.7,1147.7 1104.0,1125.8 1129.2,1117.4 1146.0,1119.0 1166.2,1127.5 1180.0,1134.2 1200.0,1100.0 1150.0,1020.0" fill="none" stroke="#000" stroke-opacity="0.3" stroke-width="26"/><polygon points="889.5,1770.6 903.7,1772.9 939.1,1772.9 951.0,1787.1 974.6,1796.6 986.5,1810.8 1022.0,1829.7 1040.9,1822.6 1045.0,1828.0 1040.9,1834.4 1026.7,1851.0 986.5,1843.9 962.8,1820.2 939.1,1810.8 903.7,1796.6 889.5,1784.8" fill="none" stroke="#000" stroke-opacity="0.3" stroke-width="26"/><polygon points="1093.0,1564.0 1120.0,1578.0 1145.0,1593.0 1187.0,1613.0 1189.0,1621.0 1160.0,1614.0 1135.0,1602.0 1110.0,1588.0 1091.0,1572.0" fill="none" stroke="#000" stroke-opacity="0.3" stroke-width="26"/></g>
<polygon points="1136.0,1009.6 1106.5,1030.9 1078.0,1040.3 1061.5,1049.8 1053.5,1062.0 1050.1,1073.6 1053.5,1087.1 1036.6,1098.9 1019.8,1105.6 1003.0,1103.9 991.2,1095.5 969.4,1092.2 935.7,1092.2 915.5,1093.8 907.1,1103.9 902.1,1115.7 899.4,1119.0 905.0,1126.0 915.5,1110.7 961.0,1110.7 986.2,1110.7 991.2,1134.2 977.8,1157.8 967.7,1183.0 964.3,1194.8 971.0,1196.5 977.8,1183.0 987.9,1161.1 1003.0,1157.8 1028.2,1172.9 1045.0,1167.9 1078.7,1147.7 1104.0,1125.8 1129.2,1117.4 1146.0,1119.0 1166.2,1127.5 1180.0,1134.2 1200.0,1100.0 1150.0,1020.0" fill="#bddff3" stroke="#d9e2ea" stroke-width="5" stroke-linejoin="round"/>
<polygon points="472.9,1286.9 491.9,1279.8 496.6,1294.0 515.5,1305.8 532.1,1308.2 548.6,1298.7 567.6,1279.8 586.5,1286.9 567.6,1305.8 558.1,1320.0 591.2,1324.8 603.1,1355.5 579.4,1362.6 555.7,1348.4 525.0,1357.9 496.6,1367.4 472.9,1383.9 449.3,1383.9 435.1,1374.4 449.3,1360.2 472.9,1346.0 487.1,1327.1 482.4,1312.9 472.9,1301.1" fill="#c6e0f0" stroke="#b8c4cc" stroke-width="3"/>
<polyline points="1136.0,1009.6 1131.3,1083.0 1126.6,1107.8 1135.9,1107.3 1135.9,1097.2 1146.7,1099.5 1162.8,1107.3 1165.6,1118.4 1176.0,1128.0 1188.0,1140.0 1201.2,1154.7 1211.5,1172.4 1218.9,1188.6 1226.2,1193.0 1229.2,1203.3 1235.1,1201.8 1242.4,1218.0 1251.3,1226.9 1263.0,1229.8 1277.8,1237.2 1292.5,1243.0 1304.3,1248.9 1307.2,1254.8 1321.9,1256.3 1336.7,1256.3 1355.8,1250.4 1360.2,1256.3 1344.0,1265.1 1330.8,1275.4 1327.8,1282.8 1321.9,1291.6 1307.2,1296.0 1296.9,1299.0 1295.4,1306.3 1288.1,1313.7 1271.9,1321.1 1263.0,1329.9 1257.2,1343.1 1248.3,1352.0 1233.6,1360.8 1210.0,1368.0 1185.0,1374.0 1180.0,1380.0 1210.0,1376.0 1240.0,1364.0 1260.1,1354.9 1271.9,1340.2 1292.5,1331.4 1301.3,1329.9 1311.6,1334.3 1317.5,1343.1 1319.0,1360.8 1320.5,1371.6 1313.5,1394.7 1304.3,1408.6 1302.0,1424.8 1307.7,1441.0 1313.5,1464.1 1318.1,1487.2 1313.5,1504.6 1304.3,1513.8 1299.6,1504.6 1290.4,1498.8 1278.8,1508.1 1266.1,1504.6 1263.8,1487.2 1264.9,1464.1 1267.2,1441.0 1267.2,1412.1 1261.5,1415.5 1260.3,1441.0 1255.7,1475.7 1244.1,1482.6 1232.5,1473.4 1221.0,1456.0 1209.4,1447.9 1200.2,1441.0 1195.5,1450.2 1197.8,1464.1 1204.8,1475.7 1215.2,1479.1 1209.4,1482.6 1192.1,1480.3 1177.0,1473.4 1168.9,1474.5 1174.7,1481.5 1192.1,1486.1 1209.4,1490.7 1227.9,1493.0 1232.5,1504.6 1226.8,1510.4 1209.4,1508.1 1197.8,1510.4 1197.8,1521.9 1209.4,1516.2 1226.8,1518.5 1238.3,1521.9 1241.8,1533.5 1249.9,1542.8 1244.1,1550.9 1232.5,1547.4 1209.4,1542.8 1195.5,1540.5 1197.8,1549.7 1221.0,1556.6 1232.5,1562.4 1237.2,1574.2 1234.9,1600.2 1227.8,1612.0 1187.6,1619.1 1185.2,1623.9 1199.4,1631.0 1211.2,1654.6 1220.7,1668.8 1216.0,1683.0 1227.8,1692.5 1234.9,1702.0 1227.8,1720.9 1223.1,1737.4 1216.0,1746.9 1211.2,1749.3 1206.5,1742.2 1208.9,1732.7 1194.7,1725.6 1178.1,1725.6 1168.6,1739.8 1159.2,1756.4 1154.4,1772.9 1140.2,1784.8 1130.8,1799.0 1116.6,1808.4 1100.0,1810.8 1092.9,1817.9 1090.6,1789.5 1092.9,1768.2 1102.4,1758.7 1107.1,1744.5 1114.2,1739.8 1119.0,1723.2 1111.9,1711.4 1104.8,1706.7 1097.7,1720.9 1088.2,1735.1 1076.4,1739.8 1083.5,1749.3 1088.2,1758.7 1081.1,1772.9 1069.3,1782.4 1059.8,1794.2 1055.1,1810.8 1050.3,1822.6 1043.2,1834.4 1040.9,1846.3 1033.8,1853.4 1024.3,1851.0 1022.0,1860.5 1014.9,1874.7 1007.8,1886.5 998.3,1891.2 991.2,1888.9 984.1,1900.7 974.6,1905.4 967.5,1912.5 960.4,1929.1 955.7,1940.9 948.6,1945.6 958.1,1962.2 962.8,1971.7 967.5,1983.5 960.4,1990.6 958.1,2010.0 945.0,2020.0 938.4,2027.1 930.0,2040.0 935.0,2055.0 926.0,2070.0 923.6,2081.4 910.5,2084.0" fill="none" stroke="#dfe7ec" stroke-width="9" stroke-linejoin="round"/>
<polygon points="889.5,1770.6 903.7,1772.9 939.1,1772.9 951.0,1787.1 974.6,1796.6 986.5,1810.8 1022.0,1829.7 1040.9,1822.6 1045.0,1828.0 1040.9,1834.4 1026.7,1851.0 986.5,1843.9 962.8,1820.2 939.1,1810.8 903.7,1796.6 889.5,1784.8" fill="#bddff3" stroke="#dde4ea" stroke-width="4" stroke-linejoin="round"/>
<polygon points="1093.0,1564.0 1120.0,1578.0 1145.0,1593.0 1187.0,1613.0 1189.0,1621.0 1160.0,1614.0 1135.0,1602.0 1110.0,1588.0 1091.0,1572.0" fill="#bddff3" stroke="#dde4ea" stroke-width="4" stroke-linejoin="round"/>
<polyline points="600.0,1352.0 625.0,1338.0 648.0,1321.0 690.0,1296.0 715.0,1285.0 733.8,1272.4 750.3,1251.1 769.3,1227.5 783.5,1208.5 802.4,1196.7 821.3,1184.9 835.5,1166.0 847.3,1147.0 863.9,1135.2 887.6,1128.0 906.5,1118.6" fill="none" stroke="#d5dfe6" stroke-width="11" stroke-linejoin="round" stroke-linecap="round"/>
<polyline points="600.0,1352.0 625.0,1338.0 648.0,1321.0 690.0,1296.0 715.0,1285.0 733.8,1272.4 750.3,1251.1 769.3,1227.5 783.5,1208.5 802.4,1196.7 821.3,1184.9 835.5,1166.0 847.3,1147.0 863.9,1135.2 887.6,1128.0 906.5,1118.6" fill="none" stroke="#c2dcee" stroke-width="6" stroke-linejoin="round" stroke-linecap="round"/>
<polyline points="679.6,1336.6 679.6,1373.4 663.8,1415.5 658.5,1447.0" fill="none" stroke="#d5dfe6" stroke-width="11" stroke-linejoin="round" stroke-linecap="round"/>
<polyline points="679.6,1336.6 679.6,1373.4 663.8,1415.5 658.5,1447.0" fill="none" stroke="#c2dcee" stroke-width="6" stroke-linejoin="round" stroke-linecap="round"/>
<polyline points="915.5,1874.7 951.0,1886.5 986.5,1891.2 1005.0,1888.0" fill="none" stroke="#d5dfe6" stroke-width="11" stroke-linejoin="round" stroke-linecap="round"/>
<polyline points="915.5,1874.7 951.0,1886.5 986.5,1891.2 1005.0,1888.0" fill="none" stroke="#c2dcee" stroke-width="6" stroke-linejoin="round" stroke-linecap="round"/>
<polyline points="648.6,1092.6 662.8,1083.2 679.4,1078.4 693.6,1076.1 712.5,1080.8 722.0,1076.1 731.4,1069.0 731.4,1040.6 745.6,1040.6 750.3,1052.4 769.3,1059.5 781.1,1069.0 802.4,1078.4 821.3,1080.8 828.4,1066.6 845.0,1066.6 863.9,1059.5 887.6,1057.1 894.7,1080.8 889.9,1095.0 904.1,1099.7 915.5,1100.6" fill="none" stroke="#000" stroke-width="1.8" stroke-linejoin="round"/>
<polyline points="887.6,1057.1 885.2,1042.9 887.6,1028.7 899.4,1014.5 918.3,1005.1 932.5,995.6 934.9,981.4" fill="none" stroke="#000" stroke-width="1.8" stroke-linejoin="round"/>
<polyline points="915.5,1100.6 987.9,1098.9 991.2,1127.5 1018.1,1137.6 1070.3,1117.4 1125.8,1082.1 1131.3,1078.0" fill="none" stroke="#000" stroke-width="1.8" stroke-linejoin="round"/>
<polyline points="991.2,1127.5 961.0,1171.2 935.7,1164.5 918.9,1167.9 893.6,1167.9 881.9,1178.0 887.6,1194.3 889.9,1220.4 884.6,1236.7 837.3,1242.0 805.8,1273.5 779.5,1294.5 753.2,1310.3" fill="none" stroke="#000" stroke-width="1.8" stroke-linejoin="round"/>
<polyline points="1031.6,1135.9 1045.0,1167.9 1053.5,1198.1 1058.1,1205.2 1068.6,1226.2 1079.2,1273.5 1084.4,1320.8 1110.7,1362.9 1121.2,1405.0 1121.2,1457.5 1142.3,1489.1 1168.6,1478.5" fill="none" stroke="#000" stroke-width="1.8" stroke-linejoin="round"/>
<polyline points="364.1,1357.6 406.2,1383.9 437.7,1415.5 458.8,1447.0 490.3,1426.0 511.3,1410.2 532.4,1436.5 574.4,1431.2 595.5,1426.0 616.5,1405.0 637.5,1386.5 658.5,1394.4 679.6,1405.0 711.1,1394.4 732.1,1347.1 753.2,1310.3" fill="none" stroke="#000" stroke-width="1.8" stroke-linejoin="round"/>
<polyline points="753.2,1310.3 784.7,1310.3 805.8,1331.3 816.3,1352.4 847.8,1352.4 868.9,1383.9 884.6,1394.4 916.2,1373.4 937.2,1394.4 958.2,1410.2 984.5,1426.0 995.0,1426.0 1042.4,1426.0 1084.4,1426.0 1105.5,1415.5 1121.2,1405.0" fill="none" stroke="#000" stroke-width="1.8" stroke-linejoin="round"/>
<polyline points="595.5,1426.0 600.7,1468.0 616.5,1499.6 621.7,1536.4 616.5,1562.7 627.0,1578.4" fill="none" stroke="#000" stroke-width="1.8" stroke-linejoin="round"/>
<polyline points="453.5,1720.4 458.8,1657.3 500.8,1646.8 532.4,1604.7 563.9,1583.7 595.5,1573.2 627.0,1578.4 648.0,1604.7 658.5,1646.8 679.6,1657.3 705.9,1646.8 737.4,1620.5 763.7,1589.0 784.7,1578.4 816.3,1583.7 847.8,1573.2 868.9,1541.6" fill="none" stroke="#000" stroke-width="1.8" stroke-linejoin="round"/>
<polyline points="868.9,1541.6 889.9,1510.1 910.9,1489.1 937.2,1468.0 974.0,1447.0 995.0,1426.0" fill="none" stroke="#000" stroke-width="1.8" stroke-linejoin="round"/>
<polyline points="868.9,1541.6 884.6,1573.2 874.1,1604.7 874.1,1652.0 900.4,1678.3 900.4,1730.9 895.2,1783.5 885.9,1800.0 875.4,1827.3 814.9,1827.3 775.5,1830.0 733.4,1840.5 728.1,1879.9 694.0,1903.6 688.0,1916.0" fill="none" stroke="#000" stroke-width="1.8" stroke-linejoin="round"/>
<polyline points="874.1,1652.0 910.9,1646.8 953.0,1646.8 989.8,1641.5 1026.6,1667.8 1068.6,1678.3 1100.2,1699.4 1104.8,1706.7" fill="none" stroke="#000" stroke-width="1.8" stroke-linejoin="round"/>
</g>
<path d="M716.0,867.9 L722.0,857.2 L745.6,852.5 L764.5,853.7 L792.9,854.8 L800.0,875.0 L814.2,898.6 L830.8,912.8 L847.3,924.6 L875.7,930.6 L906.5,927.0 L907.7,941.2 L916.0,938.8 L920.7,934.1 L925.4,953.0 L934.9,981.4 L944.3,976.7 L963.3,955.4 L982.2,945.9 L991.7,924.6 L1003.5,917.5 L1017.7,911.6 L1029.5,912.8 L1042.6,906.7 L1056.8,904.3 L1067.4,917.3 L1069.8,945.7 L1066.2,964.6 L1080.4,959.9 L1094.6,959.9 L1101.7,976.5 L1123.0,980.0 L1134.9,997.8 L1136.0,1009.6 L1131.3,1083.0 L1126.6,1107.8 L1135.9,1107.3 L1135.9,1097.2 L1146.7,1099.5 L1162.8,1107.3 L1165.6,1118.4 L1176.0,1128.0 L1188.0,1140.0 L1201.2,1154.7 L1211.5,1172.4 L1218.9,1188.6 L1226.2,1193.0 L1229.2,1203.3 L1235.1,1201.8 L1242.4,1218.0 L1251.3,1226.9 L1263.0,1229.8 L1277.8,1237.2 L1292.5,1243.0 L1304.3,1248.9 L1307.2,1254.8 L1321.9,1256.3 L1336.7,1256.3 L1355.8,1250.4 L1360.2,1256.3 L1344.0,1265.1 L1330.8,1275.4 L1327.8,1282.8 L1321.9,1291.6 L1307.2,1296.0 L1296.9,1299.0 L1295.4,1306.3 L1288.1,1313.7 L1271.9,1321.1 L1263.0,1329.9 L1257.2,1343.1 L1248.3,1352.0 L1233.6,1360.8 L1210.0,1368.0 L1185.0,1374.0 L1180.0,1380.0 L1210.0,1376.0 L1240.0,1364.0 L1260.1,1354.9 L1271.9,1340.2 L1292.5,1331.4 L1301.3,1329.9 L1311.6,1334.3 L1317.5,1343.1 L1319.0,1360.8 L1320.5,1371.6 L1313.5,1394.7 L1304.3,1408.6 L1302.0,1424.8 L1307.7,1441.0 L1313.5,1464.1 L1318.1,1487.2 L1313.5,1504.6 L1304.3,1513.8 L1299.6,1504.6 L1290.4,1498.8 L1278.8,1508.1 L1266.1,1504.6 L1263.8,1487.2 L1264.9,1464.1 L1267.2,1441.0 L1267.2,1412.1 L1261.5,1415.5 L1260.3,1441.0 L1255.7,1475.7 L1244.1,1482.6 L1232.5,1473.4 L1221.0,1456.0 L1209.4,1447.9 L1200.2,1441.0 L1195.5,1450.2 L1197.8,1464.1 L1204.8,1475.7 L1215.2,1479.1 L1209.4,1482.6 L1192.1,1480.3 L1177.0,1473.4 L1168.9,1474.5 L1174.7,1481.5 L1192.1,1486.1 L1209.4,1490.7 L1227.9,1493.0 L1232.5,1504.6 L1226.8,1510.4 L1209.4,1508.1 L1197.8,1510.4 L1197.8,1521.9 L1209.4,1516.2 L1226.8,1518.5 L1238.3,1521.9 L1241.8,1533.5 L1249.9,1542.8 L1244.1,1550.9 L1232.5,1547.4 L1209.4,1542.8 L1195.5,1540.5 L1197.8,1549.7 L1221.0,1556.6 L1232.5,1562.4 L1237.2,1574.2 L1234.9,1600.2 L1227.8,1612.0 L1187.6,1619.1 L1185.2,1623.9 L1199.4,1631.0 L1211.2,1654.6 L1220.7,1668.8 L1216.0,1683.0 L1227.8,1692.5 L1234.9,1702.0 L1227.8,1720.9 L1223.1,1737.4 L1216.0,1746.9 L1211.2,1749.3 L1206.5,1742.2 L1208.9,1732.7 L1194.7,1725.6 L1178.1,1725.6 L1168.6,1739.8 L1159.2,1756.4 L1154.4,1772.9 L1140.2,1784.8 L1130.8,1799.0 L1116.6,1808.4 L1100.0,1810.8 L1092.9,1817.9 L1090.6,1789.5 L1092.9,1768.2 L1102.4,1758.7 L1107.1,1744.5 L1114.2,1739.8 L1119.0,1723.2 L1111.9,1711.4 L1104.8,1706.7 L1097.7,1720.9 L1088.2,1735.1 L1076.4,1739.8 L1083.5,1749.3 L1088.2,1758.7 L1081.1,1772.9 L1069.3,1782.4 L1059.8,1794.2 L1055.1,1810.8 L1050.3,1822.6 L1043.2,1834.4 L1040.9,1846.3 L1033.8,1853.4 L1024.3,1851.0 L1022.0,1860.5 L1014.9,1874.7 L1007.8,1886.5 L998.3,1891.2 L991.2,1888.9 L984.1,1900.7 L974.6,1905.4 L967.5,1912.5 L960.4,1929.1 L955.7,1940.9 L948.6,1945.6 L958.1,1962.2 L962.8,1971.7 L967.5,1983.5 L960.4,1990.6 L958.1,2010.0 L945.0,2020.0 L938.4,2027.1 L930.0,2040.0 L935.0,2055.0 L926.0,2070.0 L923.6,2081.4 L910.5,2084.0 L906.9,2082.3 L896.4,2069.2 L888.5,2058.7 L891.1,2042.9 L880.6,2016.6 L875.4,2006.1 L859.6,2003.4 L849.1,1992.9 L833.3,1995.6 L817.5,1995.6 L807.0,2011.3 L796.5,2021.8 L786.0,2008.7 L775.5,2011.3 L767.6,2027.1 L749.2,2027.1 L736.0,2032.4 L722.9,2027.1 L712.4,2006.1 L701.8,1987.7 L704.5,1964.0 L696.6,1956.1 L686.1,1937.7 L688.7,1927.2 L683.4,1916.7 L665.0,1916.7 L649.3,1927.2 L644.0,1958.8 L638.8,1964.0 L630.9,1958.8 L612.5,1958.8 L609.8,1964.0 L596.7,1974.5 L588.8,1987.7 L573.0,1990.3 L552.0,1985.0 L546.8,1974.5 L528.3,1969.3 L512.6,1964.0 L507.3,1977.2 L491.5,1971.9 L483.7,1953.5 L494.2,1935.1 L488.9,1922.0 L488.9,1898.3 L481.0,1879.9 L475.8,1851.0 L470.5,1830.0 L451.4,1826.5 L449.0,1807.6 L451.4,1786.3 L470.3,1769.7 L463.2,1757.9 L465.6,1750.8 L470.3,1739.0 L456.2,1731.9 L451.4,1717.7 L439.6,1720.0 L418.3,1727.1 L399.4,1724.8 L392.3,1731.9 L380.4,1731.9 L378.1,1717.7 L385.2,1705.8 L378.1,1684.5 L387.5,1665.6 L375.7,1653.8 L373.3,1632.5 L375.7,1604.1 L368.6,1589.9 L363.9,1561.5 L347.3,1549.7 L340.2,1526.0 L321.3,1526.0 L321.3,1516.6 L295.5,1514.0 L286.0,1499.8 L281.3,1473.8 L278.9,1447.8 L281.3,1436.0 L290.8,1428.9 L291.9,1409.9 L314.4,1405.2 L323.9,1383.9 L328.6,1372.1 L354.6,1367.4 L361.7,1350.8 L373.6,1346.0 L404.3,1343.7 L406.7,1327.1 L439.8,1305.8 L454.0,1301.1 L473.0,1279.8 L477.7,1251.4 L499.0,1237.2 L501.3,1220.7 L513.2,1215.9 L514.3,1185.2 L508.4,1168.6 L506.0,1152.0 L520.2,1140.2 L515.5,1126.0 L517.9,1104.7 L543.9,1100.0 L574.7,1109.5 L580.0,1111.5 L606.0,1115.0 L610.8,1102.0 L630.9,1093.8 L648.6,1092.6 L636.8,1066.6 L633.2,1046.5 L615.5,1051.2 L609.6,1038.2 L616.7,1028.7 L610.8,1019.3 L633.2,1008.6 L651.0,998.0 L656.9,1009.8 L674.6,990.9 L677.0,972.0 L695.9,956.6 L694.7,936.5 L704.2,915.2 L712.5,901.0 Z" fill="none" stroke="#000" stroke-width="4" stroke-linejoin="round"/>
<polygon points="1308.7,1178.3 1321.9,1173.9 1351.4,1178.3 1366.1,1184.2 1398.5,1193.0 1401.4,1198.9 1395.5,1203.3 1410.3,1216.5 1408.8,1235.7 1398.5,1237.2 1380.8,1231.3 1363.1,1228.3 1336.7,1231.3 1330.8,1222.4 1324.9,1207.7 1316.0,1188.6" fill="none" stroke="#000" stroke-width="3.5" stroke-linejoin="round"/>
<polygon points="1277.8,1193.0 1289.5,1185.6 1301.3,1201.8 1305.7,1223.9 1292.5,1229.8 1283.7,1226.9 1280.7,1210.7" fill="none" stroke="#000" stroke-width="3.5" stroke-linejoin="round"/>
<ellipse cx="1308" cy="1193" rx="4.8" ry="6.4" fill="#000" stroke="#000" stroke-width="3.5"/>
<ellipse cx="1316" cy="1246" rx="9" ry="8" fill="none" stroke="#000" stroke-width="3.5"/>
<polygon points="1328.0,1226.0 1345.0,1229.0 1362.0,1233.0 1366.0,1240.0 1345.0,1243.0 1330.0,1240.0" fill="#dce6ec" stroke="#000" stroke-width="3.5" stroke-linejoin="round"/>
<polygon points="1336.8,1129.3 1365.2,1118.6 1384.1,1126.9 1379.4,1148.2 1367.5,1145.8" fill="none" stroke="#000" stroke-width="3.5" stroke-linejoin="round"/>
<polygon points="1391.0,1140.0 1410.0,1136.0 1433.0,1140.0 1434.0,1150.0 1410.0,1153.0 1392.0,1151.0" fill="none" stroke="#000" stroke-width="3.5" stroke-linejoin="round"/>
<ellipse cx="1314" cy="1126" rx="7.2" ry="6.4" fill="#000" stroke="#000" stroke-width="3.5"/>
<polygon points="1397.0,1080.0 1420.0,1078.0 1445.0,1085.0 1450.0,1095.0 1425.0,1098.0 1398.0,1096.0" fill="none" stroke="#000" stroke-width="3.5" stroke-linejoin="round"/>
<ellipse cx="1426" cy="993" rx="2.5" ry="3.2" fill="#000" stroke="#000" stroke-width="3.5"/>
<ellipse cx="1442" cy="1000" rx="4.0" ry="4.0" fill="#000" stroke="#000" stroke-width="3.5"/>
<ellipse cx="1449" cy="1012" rx="8.0" ry="4.8" fill="#000" stroke="#000" stroke-width="3.5"/>
<ellipse cx="1467" cy="1019" rx="6.4" ry="4.8" fill="#000" stroke="#000" stroke-width="3.5"/>
<polygon points="1328.0,1022.0 1345.0,1030.0 1352.0,1040.0 1364.0,1036.0 1360.0,1046.0 1345.0,1049.0 1338.0,1042.0" fill="#dce6ec" stroke="#000" stroke-width="3.5" stroke-linejoin="round"/>
<ellipse cx="1489" cy="970" rx="6.4" ry="3.2" fill="#000" stroke="#000" stroke-width="3.5"/>
<ellipse cx="1502" cy="964" rx="4.8" ry="4.0" fill="#000" stroke="#000" stroke-width="3.5"/>
<ellipse cx="1525" cy="983" rx="4.0" ry="2.8" fill="#000" stroke="#000" stroke-width="3.5"/>
<ellipse cx="1533" cy="1006" rx="8.0" ry="4.8" fill="#000" stroke="#000" stroke-width="3.5"/>
<ellipse cx="1455" cy="1154" rx="7.2" ry="2.8" fill="#000" stroke="#000" stroke-width="3.5"/>
<ellipse cx="1500" cy="1165" rx="9.6" ry="4.0" fill="#000" stroke="#000" stroke-width="3.5"/>
<ellipse cx="1523.7" cy="1182.5" rx="3.6" ry="3.6" fill="#000" stroke="#000" stroke-width="3.5"/>
<ellipse cx="1398" cy="1027" rx="2.5" ry="2.5" fill="#000" stroke="#000" stroke-width="3.5"/>
<ellipse cx="1435" cy="1034" rx="2.5" ry="2.5" fill="#000" stroke="#000" stroke-width="3.5"/>
<ellipse cx="1415" cy="1042" rx="5.6" ry="2.5" fill="#000" stroke="#000" stroke-width="3.5"/>
<ellipse cx="1392" cy="1063" rx="3.2" ry="3.2" fill="#000" stroke="#000" stroke-width="3.5"/>
<ellipse cx="1407" cy="1067" rx="4.8" ry="3.2" fill="#000" stroke="#000" stroke-width="3.5"/>
<ellipse cx="1357" cy="1160" rx="3.2" ry="3.2" fill="#000" stroke="#000" stroke-width="3.5"/>
<ellipse cx="1227.1" cy="1034.4" rx="3.2" ry="2.5" fill="#000" stroke="#000" stroke-width="3.5"/>
<polygon points="1412.0,1214.0 1425.0,1209.0 1440.0,1222.0 1444.0,1245.0 1436.0,1270.0 1420.0,1268.0 1414.0,1245.0" fill="none" stroke="#000" stroke-width="3.5" stroke-linejoin="round"/>
<polygon points="1368.0,1255.0 1388.0,1252.0 1408.0,1262.0 1410.0,1290.0 1398.0,1316.0 1380.0,1318.0 1366.0,1300.0 1372.0,1280.0" fill="none" stroke="#000" stroke-width="3.5" stroke-linejoin="round"/>
<polygon points="1338.0,1285.0 1352.0,1283.0 1372.0,1300.0 1374.0,1325.0 1362.0,1330.0 1342.0,1318.0 1336.0,1300.0" fill="none" stroke="#000" stroke-width="3.5" stroke-linejoin="round"/>
<ellipse cx="1325" cy="1336" rx="4.0" ry="4.0" fill="#000" stroke="#000" stroke-width="3.5"/>
<ellipse cx="1361" cy="1339" rx="2.5" ry="2.5" fill="#000" stroke="#000" stroke-width="3.5"/>
<ellipse cx="1320" cy="1372" rx="4.0" ry="2.5" fill="#000" stroke="#000" stroke-width="3.5"/>
<ellipse cx="1324" cy="1400" rx="2.8" ry="2.5" fill="#000" stroke="#000" stroke-width="3.5"/>
<ellipse cx="1317" cy="1421" rx="2.8" ry="2.5" fill="#000" stroke="#000" stroke-width="3.5"/>
<ellipse cx="1319" cy="1448" rx="4.0" ry="7.2" fill="#000" stroke="#000" stroke-width="3.5"/>
<ellipse cx="1332" cy="1470" rx="7.2" ry="6.4" fill="#000" stroke="#000" stroke-width="3.5"/>
<ellipse cx="1374" cy="1394" rx="7.2" ry="8.0" fill="#000" stroke="#000" stroke-width="3.5"/>
<ellipse cx="1380" cy="1410" rx="2.5" ry="2.5" fill="#000" stroke="#000" stroke-width="3.5"/>
<ellipse cx="1385" cy="1565" rx="4.8" ry="4.8" fill="#000" stroke="#000" stroke-width="3.5"/>
<ellipse cx="1278" cy="1585" rx="6" ry="4" fill="#000" stroke="#000" stroke-width="3.5"/>
<ellipse cx="1292" cy="1582" rx="6" ry="4" fill="#000" stroke="#000" stroke-width="3.5"/>
<ellipse cx="1300" cy="1596" rx="5" ry="6" fill="#000" stroke="#000" stroke-width="3.5"/>
<ellipse cx="1285" cy="1600" rx="7" ry="5" fill="#000" stroke="#000" stroke-width="3.5"/>
<ellipse cx="1296" cy="1610" rx="4" ry="4" fill="#000" stroke="#000" stroke-width="3.5"/>
<ellipse cx="1274" cy="1607" rx="4" ry="3" fill="#000" stroke="#000" stroke-width="3.5"/>
<ellipse cx="1261" cy="1618" rx="7.2" ry="3.2" fill="#000" stroke="#000" stroke-width="3.5"/>
<ellipse cx="1271" cy="1644" rx="3.2" ry="2.5" fill="#000" stroke="#000" stroke-width="3.5"/>
<ellipse cx="1291" cy="1675" rx="4.8" ry="4.0" fill="#000" stroke="#000" stroke-width="3.5"/>
<ellipse cx="1291" cy="1684" rx="7.2" ry="11.2" fill="#000" stroke="#000" stroke-width="3.5"/>
<ellipse cx="1296" cy="1708" rx="3.2" ry="3.2" fill="#000" stroke="#000" stroke-width="3.5"/>
<ellipse cx="1246" cy="1712" rx="3.2" ry="3.2" fill="#000" stroke="#000" stroke-width="3.5"/>
<ellipse cx="1223" cy="1759" rx="3.2" ry="3.2" fill="#000" stroke="#000" stroke-width="3.5"/>
<ellipse cx="1152" cy="1792" rx="8.0" ry="5.6" fill="#000" stroke="#000" stroke-width="3.5"/>
<ellipse cx="1161" cy="1804" rx="4.0" ry="7.2" fill="#000" stroke="#000" stroke-width="3.5"/>
<ellipse cx="1190" cy="1800" rx="5.6" ry="4.8" fill="#000" stroke="#000" stroke-width="3.5"/>
<ellipse cx="1108" cy="1830" rx="8.0" ry="4.0" fill="#000" stroke="#000" stroke-width="3.5"/>
<polygon points="1063.0,1826.0 1080.0,1822.0 1091.0,1832.0 1085.0,1842.0 1066.0,1840.0" fill="#dce6ec" stroke="#000" stroke-width="3.5" stroke-linejoin="round"/>
<ellipse cx="1064" cy="1860" rx="7" ry="5" fill="#000" stroke="#000" stroke-width="3.5"/>
<ellipse cx="1078" cy="1866" rx="6" ry="4" fill="#000" stroke="#000" stroke-width="3.5"/>
<ellipse cx="1086" cy="1880" rx="5" ry="7" fill="#000" stroke="#000" stroke-width="3.5"/>
<ellipse cx="1072" cy="1878" rx="5" ry="4" fill="#000" stroke="#000" stroke-width="3.5"/>
<ellipse cx="1090" cy="1895" rx="5" ry="5" fill="#000" stroke="#000" stroke-width="3.5"/>
<ellipse cx="1100" cy="1872" rx="3" ry="3" fill="#000" stroke="#000" stroke-width="3.5"/>
<ellipse cx="1060" cy="1873" rx="3" ry="3" fill="#000" stroke="#000" stroke-width="3.5"/>
<ellipse cx="1110" cy="1880" rx="2.8" ry="2.8" fill="#000" stroke="#000" stroke-width="3.5"/>
<ellipse cx="1006" cy="1925" rx="4.0" ry="8.0" fill="#000" stroke="#000" stroke-width="3.5"/>
<ellipse cx="1024" cy="1915" rx="4.0" ry="4.0" fill="#000" stroke="#000" stroke-width="3.5"/>
<ellipse cx="1046" cy="1929" rx="4.0" ry="4.0" fill="#000" stroke="#000" stroke-width="3.5"/>
<ellipse cx="1105" cy="1942" rx="7.2" ry="4.8" fill="#000" stroke="#000" stroke-width="3.5"/>
<ellipse cx="1075" cy="1990" rx="9.6" ry="10.4" fill="#000" stroke="#000" stroke-width="3.5"/>
</g>
<rect x="185.7" y="809.5" width="1872.8" height="1305.9" fill="none" stroke="#000" stroke-width="3.6"/>
<line x1="301.3" y1="809.5" x2="301.3" y2="797.0" stroke="#000" stroke-width="2.5"/>
<text x="302.3" y="788.6" text-anchor="middle" font-size="34">118°E</text>
<line x1="815.1" y1="809.5" x2="815.1" y2="797.0" stroke="#000" stroke-width="2.5"/>
<text x="816.1" y="788.6" text-anchor="middle" font-size="34">120°E</text>
<line x1="1327.9" y1="809.5" x2="1327.9" y2="797.0" stroke="#000" stroke-width="2.5"/>
<text x="1328.9" y="788.6" text-anchor="middle" font-size="34">122°E</text>
<line x1="1840.8" y1="809.5" x2="1840.8" y2="797.0" stroke="#000" stroke-width="2.5"/>
<text x="1841.8" y="788.6" text-anchor="middle" font-size="34">124°E</text>
<line x1="246.9" y1="2115.4" x2="246.9" y2="2128.9" stroke="#000" stroke-width="2.5"/>
<text x="247.4" y="2161.5" text-anchor="middle" font-size="34">118°E</text>
<line x1="781.7" y1="2115.4" x2="781.7" y2="2128.9" stroke="#000" stroke-width="2.5"/>
<text x="782.2" y="2161.5" text-anchor="middle" font-size="34">120°E</text>
<line x1="1316.6" y1="2115.4" x2="1316.6" y2="2128.9" stroke="#000" stroke-width="2.5"/>
<text x="1317.1" y="2161.5" text-anchor="middle" font-size="34">122°E</text>
<line x1="1851.3" y1="2115.4" x2="1851.3" y2="2128.9" stroke="#000" stroke-width="2.5"/>
<text x="1851.8" y="2161.5" text-anchor="middle" font-size="34">124°E</text>
<line x1="185.7" y1="884.6" x2="173.2" y2="884.6" stroke="#000" stroke-width="2.5"/>
<text transform="translate(164,884.6) rotate(-90)" text-anchor="middle" font-size="33">31°N</text>
<line x1="185.7" y1="1190" x2="173.2" y2="1190" stroke="#000" stroke-width="2.5"/>
<text transform="translate(164,1190) rotate(-90)" text-anchor="middle" font-size="33">30°N</text>
<line x1="185.7" y1="1495" x2="173.2" y2="1495" stroke="#000" stroke-width="2.5"/>
<text transform="translate(164,1495) rotate(-90)" text-anchor="middle" font-size="33">29°N</text>
<line x1="185.7" y1="1800" x2="173.2" y2="1800" stroke="#000" stroke-width="2.5"/>
<text transform="translate(164,1800) rotate(-90)" text-anchor="middle" font-size="33">28°N</text>
<line x1="185.7" y1="2104.5" x2="173.2" y2="2104.5" stroke="#000" stroke-width="2.5"/>
<text transform="translate(164,2104.5) rotate(-90)" text-anchor="middle" font-size="33">27°N</text>
<line x1="2058.5" y1="914.5" x2="2071.0" y2="914.5" stroke="#000" stroke-width="2.5"/>
<text transform="translate(2080.5,914.5) rotate(90)" text-anchor="middle" font-size="33">31°N</text>
<line x1="2058.5" y1="1219.4" x2="2071.0" y2="1219.4" stroke="#000" stroke-width="2.5"/>
<text transform="translate(2080.5,1219.4) rotate(90)" text-anchor="middle" font-size="33">30°N</text>
<line x1="2058.5" y1="1524.3" x2="2071.0" y2="1524.3" stroke="#000" stroke-width="2.5"/>
<text transform="translate(2080.5,1524.3) rotate(90)" text-anchor="middle" font-size="33">29°N</text>
<line x1="2058.5" y1="1829.2" x2="2071.0" y2="1829.2" stroke="#000" stroke-width="2.5"/>
<text transform="translate(2080.5,1829.2) rotate(90)" text-anchor="middle" font-size="33">28°N</text>
<text x="262" y="911" font-size="52">(b)</text>
<text x="823" y="849.2" font-size="33">Jiangsu Province</text>
<text x="1119.5" y="906.6" font-size="33">Shanghai City</text>
<text x="264.5" y="1112.5" font-size="33">Anhui Province</text>
<text x="206.5" y="1595.2" font-size="33">Jiangxi</text>
<text x="207.5" y="1634.1" font-size="33">Province</text>
<text x="221" y="1928.5" font-size="33">Fujian Province</text>
<rect x="266.4" y="2059.5" width="324.5" height="17.5" fill="none" stroke="#000" stroke-width="2.5"/>
<rect x="266.4" y="2059.5" width="164.2" height="17.5" fill="#000"/>
<text x="267.9" y="2042.4" text-anchor="middle" font-size="31">0</text>
<text x="348.8" y="2042.4" text-anchor="middle" font-size="31">30</text>
<text x="429.7" y="2042.4" text-anchor="middle" font-size="31">60</text>
<text x="591.5" y="2042.4" text-anchor="middle" font-size="31">120</text>
<text x="599" y="2076.3" font-size="33">KM</text>
<g stroke="#000" stroke-width="1" stroke-linejoin="round"><polygon points="1930.2,952.4 1930.2,888 1941.5,941.1" fill="#000"/><polygon points="1930.2,952.4 1930.2,888 1918.9,941.1" fill="none" stroke="#222" stroke-width="0.9"/><polygon points="1930.2,952.4 1867.1,952.4 1918.9,941.1" fill="#000"/><polygon points="1930.2,952.4 1867.1,952.4 1918.9,963.6999999999999" fill="none" stroke="#222" stroke-width="0.9"/><polygon points="1930.2,952.4 1930.2,1017.4 1918.9,963.6999999999999" fill="#000"/><polygon points="1930.2,952.4 1930.2,1017.4 1941.5,963.6999999999999" fill="none" stroke="#222" stroke-width="0.9"/><polygon points="1930.2,952.4 1994.1,952.4 1941.5,963.6999999999999" fill="#000"/><polygon points="1930.2,952.4 1994.1,952.4 1941.5,941.1" fill="none" stroke="#222" stroke-width="0.9"/></g>
<text x="1931" y="876.8" text-anchor="middle" font-size="33">N</text>
<text x="1658" y="1099.7" font-size="33" font-weight="bold">Legend</text>
<rect x="1660.75" y="1132.25" width="64.5" height="32.0" fill="none" stroke="#000" stroke-width="3.5"/>
<text x="1738" y="1159.5" font-size="33.4">Zhejiang province</text>
<rect x="1660.1" y="1184.8" width="65.8" height="33.3" fill="none" stroke="#000" stroke-width="2.2"/>
<text x="1738" y="1212.7" font-size="33.4">Municipal boundary</text>
<rect x="1659.75" y="1234.65" width="66.5" height="34.0" fill="#ff4a00" stroke="#888" stroke-width="1.5"/>
<text x="1738" y="1262.9" font-size="33.4">Significant decrease</text>
<rect x="1659.75" y="1280.45" width="66.5" height="34.0" fill="#ffff00" stroke="#888" stroke-width="1.5"/>
<text x="1738" y="1308.7" font-size="33.4">Weak decrease</text>
<rect x="1659.75" y="1326.05" width="66.5" height="34.0" fill="#b2b2b2" stroke="#888" stroke-width="1.5"/>
<text x="1738" y="1354.3" font-size="33.4">No change</text>
<rect x="1659.75" y="1372.35" width="66.5" height="34.0" fill="#00ff00" stroke="#888" stroke-width="1.5"/>
<text x="1738" y="1400.6" font-size="33.4">Weak increase</text>
<rect x="1659.75" y="1418.55" width="66.5" height="34.0" fill="#007300" stroke="#888" stroke-width="1.5"/>
<text x="1738" y="1446.8" font-size="33.4">Significant increase</text>
<polyline points="1539.7,1645.8 1539.7,1940.6 2012.8,1940.6" fill="none" stroke="#000" stroke-width="3"/>
<line x1="1539.7" y1="1940.6" x2="1550.7" y2="1940.6" stroke="#000" stroke-width="2.5"/>
<text x="1515" y="1949.6" text-anchor="end" font-size="28">0%</text>
<line x1="1539.7" y1="1898.5" x2="1550.7" y2="1898.5" stroke="#000" stroke-width="2.5"/>
<text x="1515" y="1907.5" text-anchor="end" font-size="28">5%</text>
<line x1="1539.7" y1="1856.4" x2="1550.7" y2="1856.4" stroke="#000" stroke-width="2.5"/>
<text x="1515" y="1865.4" text-anchor="end" font-size="28">10%</text>
<line x1="1539.7" y1="1814.3" x2="1550.7" y2="1814.3" stroke="#000" stroke-width="2.5"/>
<text x="1515" y="1823.3" text-anchor="end" font-size="28">15%</text>
<line x1="1539.7" y1="1772.2" x2="1550.7" y2="1772.2" stroke="#000" stroke-width="2.5"/>
<text x="1515" y="1781.2" text-anchor="end" font-size="28">20%</text>
<line x1="1539.7" y1="1730.1" x2="1550.7" y2="1730.1" stroke="#000" stroke-width="2.5"/>
<text x="1515" y="1739.1" text-anchor="end" font-size="28">25%</text>
<line x1="1539.7" y1="1688.0" x2="1550.7" y2="1688.0" stroke="#000" stroke-width="2.5"/>
<text x="1515" y="1697.0" text-anchor="end" font-size="28">30%</text>
<line x1="1539.7" y1="1645.9" x2="1550.7" y2="1645.9" stroke="#000" stroke-width="2.5"/>
<text x="1515" y="1654.9" text-anchor="end" font-size="28">35%</text>
<line x1="1634.1" y1="1940.6" x2="1634.1" y2="1932.6" stroke="#000" stroke-width="2.5"/>
<line x1="1728.9" y1="1940.6" x2="1728.9" y2="1932.6" stroke="#000" stroke-width="2.5"/>
<line x1="1822.6" y1="1940.6" x2="1822.6" y2="1932.6" stroke="#000" stroke-width="2.5"/>
<line x1="1917.7" y1="1940.6" x2="1917.7" y2="1932.6" stroke="#000" stroke-width="2.5"/>
<line x1="2011.7" y1="1940.6" x2="2011.7" y2="1932.6" stroke="#000" stroke-width="2.5"/>
<text x="1586.6" y="1985" text-anchor="middle" font-size="28">1</text>
<text x="1680.6" y="1985" text-anchor="middle" font-size="28">2</text>
<text x="1776.4" y="1985" text-anchor="middle" font-size="28">3</text>
<text x="1869" y="1985" text-anchor="middle" font-size="28">4</text>
<text x="1964.9" y="1985" text-anchor="middle" font-size="28">5</text>
<text x="1753" y="2030" text-anchor="middle" font-size="33">Representative area</text>
<text transform="translate(1435.5,1832) rotate(-90)" text-anchor="middle" font-size="33">Area ratio (%)</text>
<rect x="1577.8" y="1815.6" width="38.3" height="117.30000000000018" fill="#ff4a00"/>
<polygon points="1616.1,1815.6 1628.3999999999999,1806.8999999999999 1628.3999999999999,1924.2 1616.1,1932.9" fill="#b03000"/>
<polygon points="1577.8,1815.6 1590.1,1806.8999999999999 1628.3999999999999,1806.8999999999999 1616.1,1815.6" fill="#d83c00"/>
<text x="1605.5" y="1793.7" text-anchor="middle" font-size="26">13.98%</text>
<rect x="1671.8" y="1812.0" width="38.3" height="120.90000000000009" fill="#ffff00"/>
<polygon points="1710.1,1812.0 1722.3999999999999,1803.3 1722.3999999999999,1924.2 1710.1,1932.9" fill="#b0b000"/>
<polygon points="1671.8,1812.0 1684.1,1803.3 1722.3999999999999,1803.3 1710.1,1812.0" fill="#d8d800"/>
<text x="1708.8" y="1789.9" text-anchor="middle" font-size="26">14.39%</text>
<rect x="1766.9" y="1911.8" width="38.3" height="21.100000000000136" fill="#b4b4b4"/>
<polygon points="1805.2,1911.8 1817.5,1903.1 1817.5,1924.2 1805.2,1932.9" fill="#7a7a7a"/>
<polygon points="1766.9,1911.8 1779.2,1903.1 1817.5,1903.1 1805.2,1911.8" fill="#969696"/>
<text x="1797.7" y="1892.4" text-anchor="middle" font-size="26">2.48%</text>
<rect x="1861.3" y="1672.2" width="38.3" height="260.70000000000005" fill="#19f019"/>
<polygon points="1899.6,1672.2 1911.8999999999999,1663.5 1911.8999999999999,1924.2 1899.6,1932.9" fill="#00a000"/>
<polygon points="1861.3,1672.2 1873.6,1663.5 1911.8999999999999,1663.5 1899.6,1672.2" fill="#10c810"/>
<text x="1888.1" y="1647.6" text-anchor="middle" font-size="26">31.05%</text>
<rect x="1955.4" y="1677.5" width="38.3" height="255.4000000000001" fill="#007300"/>
<polygon points="1993.7,1677.5 2006.0,1668.8 2006.0,1924.2 1993.7,1932.9" fill="#004c00"/>
<polygon points="1955.4,1677.5 1967.7,1668.8 2006.0,1668.8 1993.7,1677.5" fill="#005f00"/>
<text x="1995.9" y="1653.5" text-anchor="middle" font-size="26">30.42%</text>
</svg>
</body></html>
